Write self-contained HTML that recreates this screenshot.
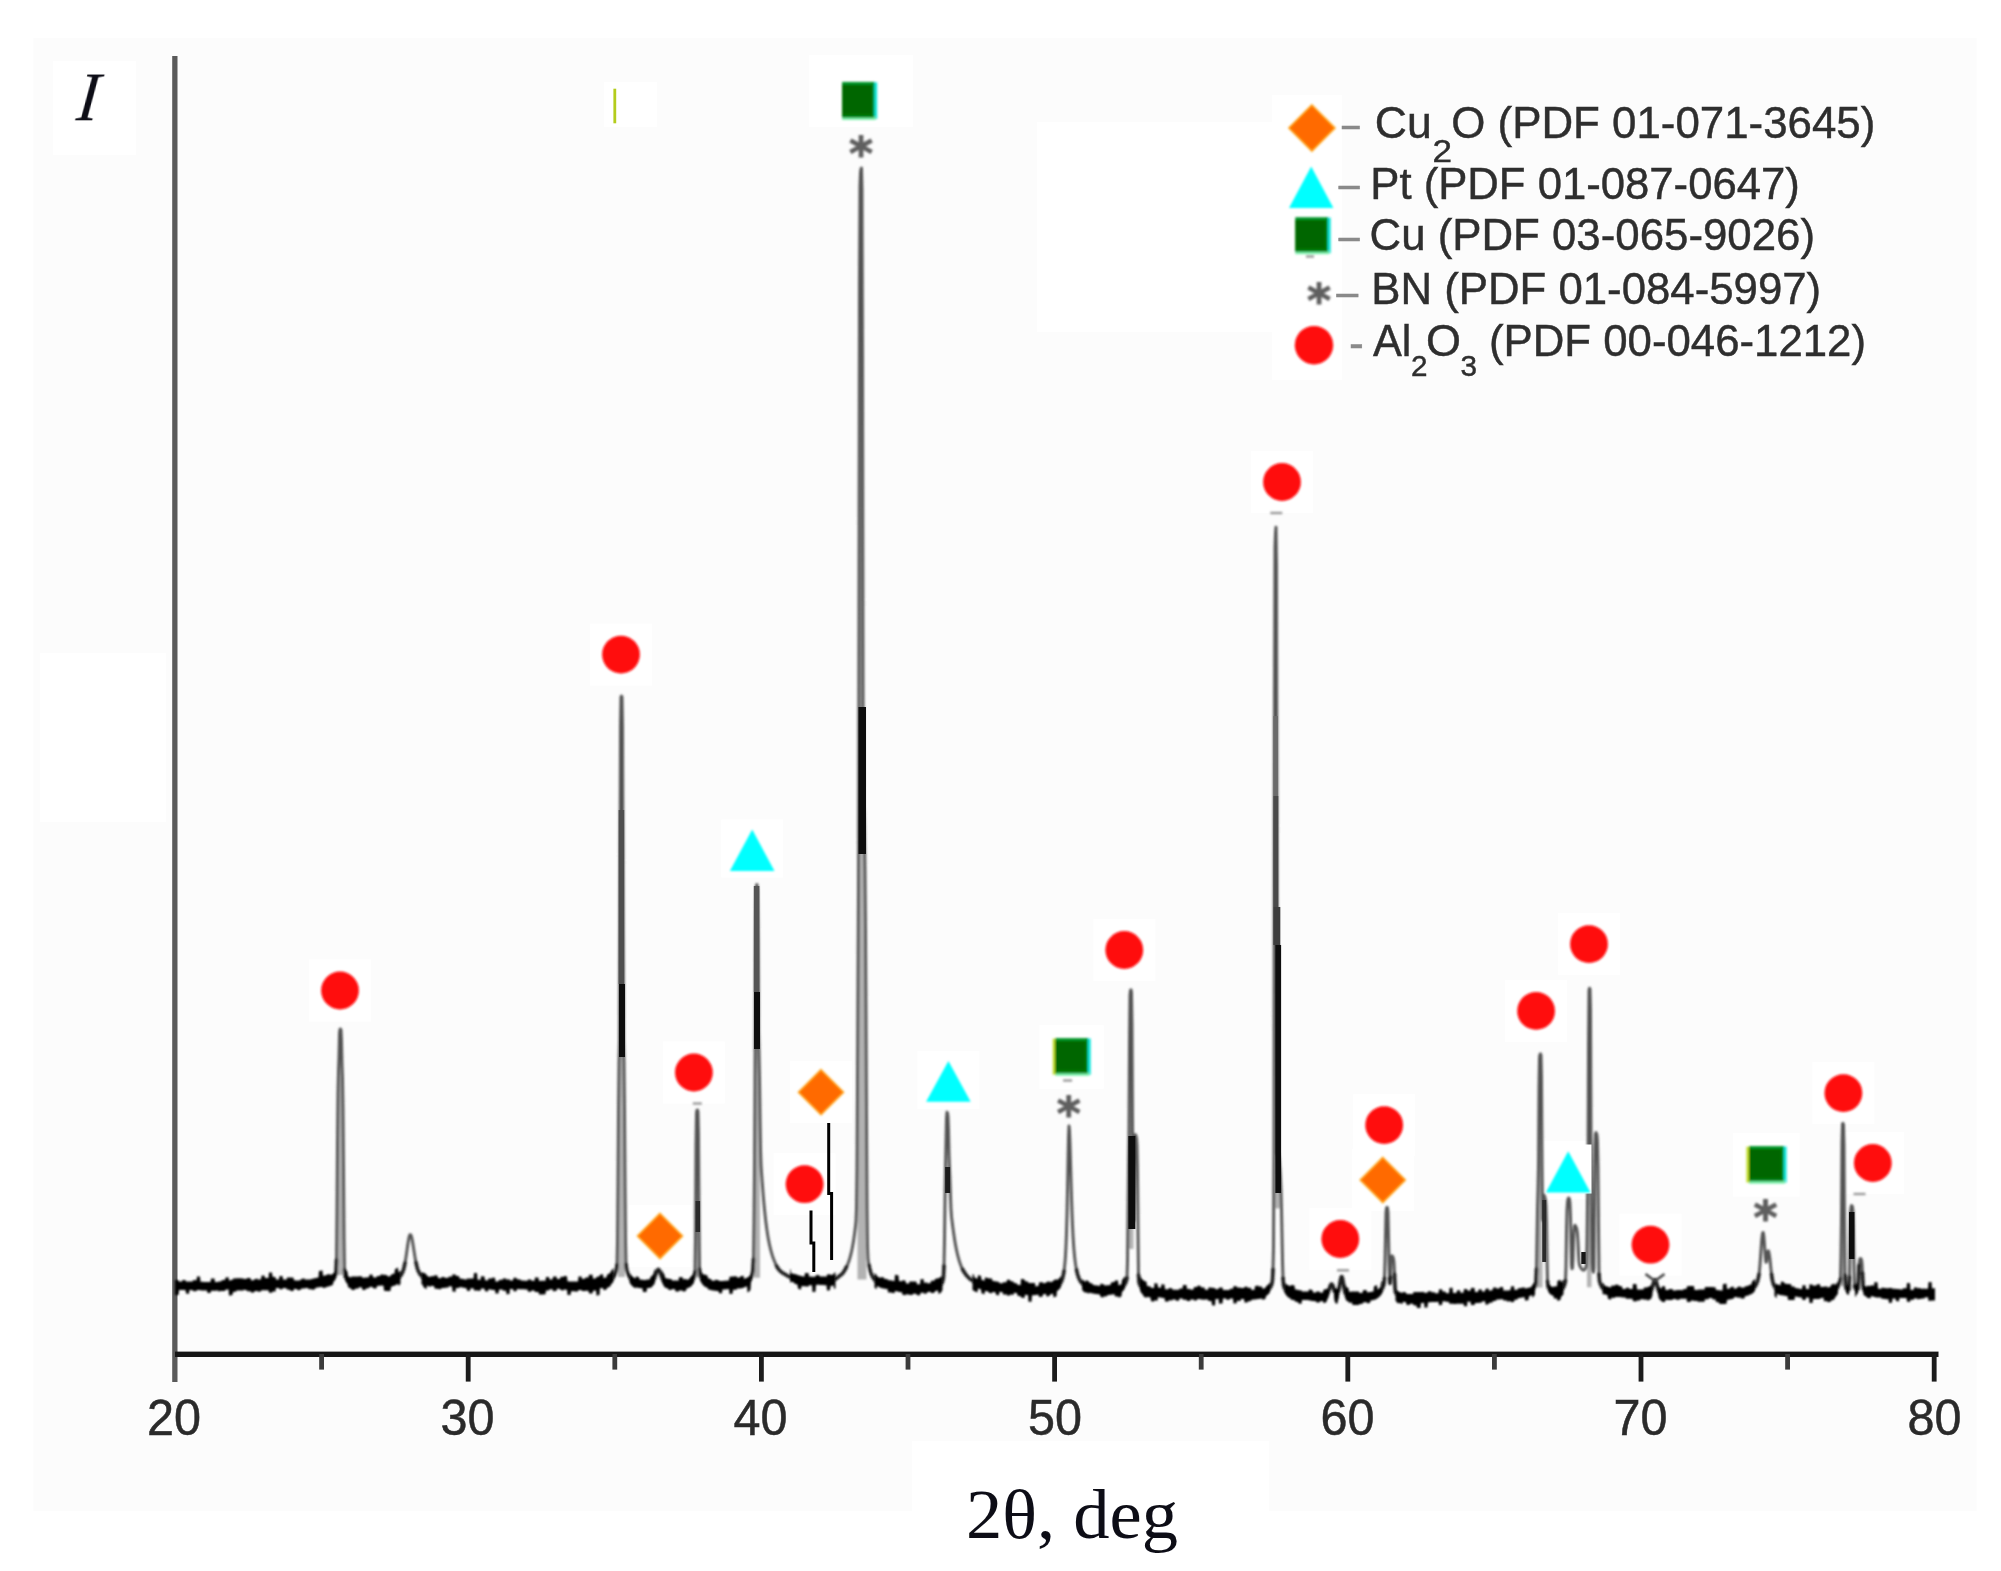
<!DOCTYPE html>
<html lang="en"><head><meta charset="utf-8"><title>XRD pattern</title>
<style>html,body{margin:0;padding:0;background:#fff;}body{width:2001px;height:1571px;overflow:hidden;}svg{display:block;}.sans{font-family:"Liberation Sans",Arial,Helvetica,sans-serif;}.serif{font-family:"Liberation Serif","Times New Roman",Times,serif;}</style></head><body>
<svg width="2001" height="1571" viewBox="0 0 2001 1571">
<defs><filter id="b1" x="-5%" y="-5%" width="110%" height="110%"><feGaussianBlur stdDeviation="0.9"/></filter><filter id="b2" x="-20%" y="-20%" width="140%" height="140%"><feGaussianBlur stdDeviation="0.8"/></filter><filter id="b3" x="-20%" y="-20%" width="140%" height="140%"><feGaussianBlur stdDeviation="0.75"/></filter></defs>
<rect x="0" y="0" width="2001" height="1571" fill="#ffffff"/>
<rect x="33.5" y="38" width="1943" height="1473" fill="#fcfcfc"/>
<rect x="53" y="61" width="83" height="94" fill="#ffffff"/>
<rect x="604" y="82" width="53" height="45" fill="#ffffff"/>
<rect x="809" y="55" width="104" height="72" fill="#ffffff"/>
<rect x="1037" y="122" width="235" height="210" fill="#ffffff"/>
<rect x="1272" y="95" width="70" height="285" fill="#ffffff"/>
<rect x="40" y="653" width="126" height="169" fill="#ffffff"/>
<rect x="912" y="1441" width="357" height="130" fill="#ffffff"/>
<rect x="309" y="959.5" width="62" height="62" fill="#fff"/>
<rect x="590" y="623.6" width="62" height="62" fill="#fff"/>
<rect x="662.9" y="1041.5" width="62" height="62" fill="#fff"/>
<rect x="773.6" y="1153.2" width="62" height="62" fill="#fff"/>
<rect x="1093.3" y="919" width="62" height="62" fill="#fff"/>
<rect x="1251" y="451" width="62" height="62" fill="#fff"/>
<rect x="1309.3" y="1208" width="62" height="62" fill="#fff"/>
<rect x="1353.2" y="1094.1" width="62" height="62" fill="#fff"/>
<rect x="1505.1" y="979.9" width="62" height="62" fill="#fff"/>
<rect x="1558" y="913.1" width="62" height="62" fill="#fff"/>
<rect x="1619.5" y="1213.7" width="62" height="62" fill="#fff"/>
<rect x="1812.4" y="1062.1" width="62" height="62" fill="#fff"/>
<rect x="1841.8" y="1132" width="62" height="62" fill="#fff"/>
<rect x="629" y="1205" width="62" height="62" fill="#fff"/>
<rect x="790" y="1061.2" width="62" height="62" fill="#fff"/>
<rect x="1351.8" y="1149" width="62" height="62" fill="#fff"/>
<rect x="721.2" y="819.5" width="62" height="58" fill="#fff"/>
<rect x="917.4" y="1051" width="62" height="58" fill="#fff"/>
<rect x="1537.2" y="1141.2" width="62" height="58" fill="#fff"/>
<rect x="1039.3" y="1025.1" width="64.5" height="63.7" fill="#fff"/>
<rect x="1733" y="1133.1" width="66.6" height="63.6" fill="#fff"/>
<g filter="url(#b3)">
<rect x="172.2" y="56" width="5.3" height="1326" fill="#5a5a5a"/>
<rect x="175" y="1351.6" width="1763.5" height="5.4" fill="#121212"/>
<rect x="319.2" y="1354" width="4.8" height="15.6" fill="#3a3a3a"/>
<rect x="465.8" y="1354" width="4.8" height="27.6" fill="#1c1c1c"/>
<rect x="612.4" y="1354" width="4.8" height="15.6" fill="#3a3a3a"/>
<rect x="759.0" y="1354" width="4.8" height="27.6" fill="#1c1c1c"/>
<rect x="905.6" y="1354" width="4.8" height="15.6" fill="#3a3a3a"/>
<rect x="1052.2" y="1354" width="4.8" height="27.6" fill="#1c1c1c"/>
<rect x="1198.8" y="1354" width="4.8" height="15.6" fill="#3a3a3a"/>
<rect x="1345.4" y="1354" width="4.8" height="27.6" fill="#1c1c1c"/>
<rect x="1492.0" y="1354" width="4.8" height="15.6" fill="#3a3a3a"/>
<rect x="1638.6" y="1354" width="4.8" height="27.6" fill="#1c1c1c"/>
<rect x="1785.2" y="1354" width="4.8" height="15.6" fill="#3a3a3a"/>
<rect x="1931.8" y="1354" width="4.8" height="27.6" fill="#1c1c1c"/>
</g>
<g fill="none" stroke-linejoin="round" stroke-linecap="round" filter="url(#b1)">
<path d="M337.0 1275.1L337.0 1210.7L337.5 1142.5L338.0 1093.7L338.5 1071.2L339.0 1056.9L339.5 1033.5L340.0 1029.3L340.5 1029.0L341.0 1029.9L341.5 1040.5L342.0 1064.6L342.5 1077.9L343.0 1109.9L343.5 1169.4L344.0 1235.7L344.0 1275.1 ZM618.0 1277.0L618.0 1181.2L618.5 1111.3L619.0 1063.5L619.5 1039.2L620.0 910.2L620.5 726.2L621.0 697.1L621.5 696.0L622.0 697.1L622.5 726.2L623.0 910.2L623.5 1039.1L624.0 1063.4L624.5 1111.1L625.0 1180.9L625.0 1277.0 ZM695.5 1277.4L695.5 1234.6L696.0 1144.9L696.5 1113.1L697.0 1110.1L697.5 1110.0L698.0 1111.7L698.5 1133.2L699.0 1217.1L699.0 1277.4 ZM754.0 1277.8L754.0 1220.8L754.5 1170.2L755.0 1081.7L755.5 972.1L756.0 916.5L756.5 885.1L757.0 884.5L757.5 890.8L758.0 941.2L758.5 1030.0L759.0 1052.4L759.5 1078.4L760.0 1115.7L760.0 1277.8 ZM857.5 1279.4L857.5 1083.6L858.0 981.4L858.5 885.0L859.0 613.0L859.5 284.0L860.0 185.7L860.5 172.5L861.0 169.2L861.5 168.1L862.0 189.9L862.5 355.2L863.0 695.5L863.5 804.6L864.0 818.9L864.5 838.8L865.0 872.8L865.5 931.1L866.0 1019.1L866.5 1122.4L866.5 1279.4 ZM1128.0 1249.1L1128.0 1213.9L1128.5 1165.8L1129.0 1133.8L1129.5 1042.2L1130.0 995.0L1130.5 990.4L1131.0 989.9L1131.5 992.2L1132.0 1025.3L1132.5 1124.9L1133.0 1174.7L1133.5 1220.6L1133.5 1249.1 ZM1273.5 1208.5L1273.5 1208.5L1274.0 1151.4L1274.5 692.4L1275.0 546.7L1275.5 533.0L1276.0 527.1L1276.5 565.6L1277.0 922.0L1277.5 1153.4L1278.0 1154.1L1278.5 1155.9L1279.0 1159.6L1279.5 1164.7L1280.0 1170.7L1280.5 1178.6L1281.0 1190.6L1281.5 1208.5L1282.0 1208.5L1282.5 1208.5L1282.5 1208.5 ZM1536.5 1287.4L1536.5 1268.9L1537.0 1239.3L1537.5 1208.5L1538.0 1189.2L1538.5 1164.6L1539.0 1087.5L1539.5 1057.5L1540.0 1054.3L1540.5 1053.9L1541.0 1055.3L1541.5 1076.5L1542.0 1158.9L1542.5 1218.5L1542.5 1287.4 ZM1587.0 1287.2L1587.0 1245.0L1587.5 1201.6L1588.0 1168.1L1588.5 1044.2L1589.0 990.4L1589.5 988.2L1590.0 989.0L1590.5 1009.8L1591.0 1141.2L1591.5 1219.2L1591.5 1287.2 ZM1841.0 1286.2L1841.0 1256.0L1841.5 1217.4L1842.0 1142.3L1842.5 1123.9L1843.0 1123.3L1843.5 1124.8L1844.0 1145.9L1844.5 1229.5L1845.0 1275.1L1845.0 1286.2 Z" fill="#b2b2b2" stroke="none"/>
<path d="M333.0 1277.9L333.5 1277.5L334.0 1277.1L334.5 1276.5L335.0 1275.9L335.5 1275.1L336.0 1273.5L336.5 1259.8L337.0 1210.7L337.5 1142.5L338.0 1093.7L338.5 1071.2L339.0 1056.9L339.5 1033.5L340.0 1029.3L340.5 1029.0L341.0 1029.9L341.5 1040.5L342.0 1064.6L342.5 1077.9L343.0 1109.9L343.5 1169.4L344.0 1235.7L344.5 1269.7L345.0 1275.9L345.5 1277.0L346.0 1277.9L346.5 1278.6L347.0 1279.2L347.5 1279.8L348.0 1280.2M394.5 1280.1L395.0 1279.9L395.5 1279.7L396.0 1279.5L396.5 1279.2L397.0 1278.9L397.5 1278.6L398.0 1278.3L398.5 1277.9L399.0 1277.5L399.5 1277.0L400.0 1276.5L400.5 1275.8L401.0 1275.2L401.5 1274.3L402.0 1273.4L402.5 1272.3L403.0 1271.0L403.5 1269.5L404.0 1267.7L404.5 1265.5L405.0 1263.0L405.5 1260.2L406.0 1257.1L406.5 1253.6L407.0 1250.1L407.5 1246.5L408.0 1243.1L408.5 1240.1L409.0 1237.5L409.5 1235.7L410.0 1234.7L410.5 1234.6L411.0 1235.3L411.5 1236.8L412.0 1238.9L412.5 1241.4L413.0 1244.4L413.5 1247.6L414.0 1250.9L414.5 1254.1L415.0 1257.2L415.5 1260.0L416.0 1262.6L416.5 1264.8L417.0 1266.9L417.5 1268.6L418.0 1270.1L418.5 1271.4L419.0 1272.4L419.5 1273.3L420.0 1274.1L420.5 1274.8L421.0 1275.4L421.5 1276.0L422.0 1276.5L422.5 1277.0L423.0 1277.5L423.5 1277.9L424.0 1278.3L424.5 1278.6L425.0 1279.0L425.5 1279.3L426.0 1279.6L426.5 1279.9L427.0 1280.1L427.5 1280.3L428.0 1280.6L428.5 1280.8M608.5 1281.8L609.0 1281.5L609.5 1281.2L610.0 1280.9L610.5 1280.5L611.0 1280.1L611.5 1279.7L612.0 1279.1L612.5 1278.6L613.0 1277.9L613.5 1277.1L614.0 1276.3L614.5 1275.3L615.0 1274.1L615.5 1272.8L616.0 1271.2L616.5 1269.4L617.0 1264.9L617.5 1241.1L618.0 1181.2L618.5 1111.3L619.0 1063.5L619.5 1039.2L620.0 910.2L620.5 726.2L621.0 697.1L621.5 696.0L622.0 697.1L622.5 726.2L623.0 910.2L623.5 1039.1L624.0 1063.4L624.5 1111.1L625.0 1180.9L625.5 1240.7L626.0 1264.4L626.5 1268.8L627.0 1270.7L627.5 1272.3L628.0 1273.7L628.5 1275.0L629.0 1276.1L629.5 1277.0L630.0 1277.8L630.5 1278.6L631.0 1279.2L631.5 1279.8L632.0 1280.3L632.5 1280.8L633.0 1281.2L633.5 1281.6L634.0 1281.9L634.5 1282.2M653.0 1281.3L653.5 1280.5L654.0 1279.4L654.5 1278.1L655.0 1276.7L655.5 1275.1L656.0 1273.6L656.5 1272.2L657.0 1270.9L657.5 1270.0L658.0 1269.5L658.5 1269.4L659.0 1269.9L659.5 1270.8L660.0 1271.9L660.5 1273.3L661.0 1274.9L661.5 1276.4L662.0 1277.9L662.5 1279.2L663.0 1280.3L663.5 1281.2L664.0 1282.0M691.0 1282.1L691.5 1281.6L692.0 1281.1L692.5 1280.3L693.0 1279.5L693.5 1278.4L694.0 1277.2L694.5 1275.7L695.0 1271.9L695.5 1234.6L696.0 1144.9L696.5 1113.1L697.0 1110.1L697.5 1110.0L698.0 1111.7L698.5 1133.2L699.0 1217.1L699.5 1268.8L700.0 1274.9L700.5 1276.4L701.0 1277.6L701.5 1278.6L702.0 1279.5L702.5 1280.2L703.0 1280.8L703.5 1281.3M748.0 1281.4L748.5 1281.1L749.0 1280.7L749.5 1280.2L750.0 1279.6L750.5 1278.9L751.0 1278.0L751.5 1276.7L752.0 1275.0L752.5 1272.7L753.0 1269.3L753.5 1259.0L754.0 1220.8L754.5 1170.2L755.0 1081.7L755.5 972.1L756.0 916.5L756.5 885.1L757.0 884.5L757.5 890.8L758.0 941.2L758.5 1030.0L759.0 1052.4L759.5 1078.4L760.0 1115.7L760.5 1148.7L761.0 1164.8L761.5 1172.7L762.0 1179.5L762.5 1186.1L763.0 1192.5L763.5 1198.5L764.0 1204.1L764.5 1209.3L765.0 1214.2L765.5 1218.8L766.0 1223.0L766.5 1226.9L767.0 1230.5L767.5 1233.9L768.0 1236.9L768.5 1239.7L769.0 1242.3L769.5 1244.7L770.0 1246.9L770.5 1248.9L771.0 1250.9L771.5 1252.7L772.0 1254.4L772.5 1256.0L773.0 1257.4L773.5 1258.8L774.0 1260.1L774.5 1261.3L775.0 1262.5L775.5 1263.7L776.0 1264.8L776.5 1265.8L777.0 1266.7L777.5 1267.7L778.0 1268.5L778.5 1269.1L779.0 1269.7L779.5 1270.3L780.0 1270.8L780.5 1271.2L781.0 1271.7L781.5 1272.1L782.0 1272.5L782.5 1272.8L783.0 1273.2L783.5 1273.5L784.0 1273.7L784.5 1274.0L785.0 1274.3L785.5 1274.6L786.0 1274.9L786.5 1275.2L787.0 1275.5L787.5 1275.8L788.0 1276.1L788.5 1276.4L789.0 1276.6L789.5 1276.8L790.0 1277.0L790.5 1277.2L791.0 1277.3L791.5 1277.5L792.0 1277.7L792.5 1277.8L793.0 1277.9L793.5 1278.1L794.0 1278.2L794.5 1278.3L795.0 1278.4L795.5 1278.5L796.0 1278.6L796.5 1278.8L797.0 1279.0L797.5 1279.2L798.0 1279.3L798.5 1279.5L799.0 1279.7L799.5 1279.9L800.0 1280.0L800.5 1280.1L801.0 1280.3L801.5 1280.4L802.0 1280.5L802.5 1280.6L803.0 1280.7L803.5 1280.8L804.0 1280.8L804.5 1280.8L805.0 1280.8L805.5 1280.8L806.0 1280.9L806.5 1280.9L807.0 1280.9L807.5 1280.9L808.0 1280.9L808.5 1280.9L809.0 1280.9L809.5 1280.9L810.0 1280.9L810.5 1280.9L811.0 1280.9L811.5 1281.0L812.0 1281.0L812.5 1281.1L813.0 1281.1L813.5 1281.1L814.0 1281.2L814.5 1281.1L815.0 1280.9L815.5 1280.8L816.0 1280.7L816.5 1280.6L817.0 1280.5L817.5 1280.4L818.0 1280.4L818.5 1280.4L819.0 1280.5L819.5 1280.6L820.0 1280.6L820.5 1280.7L821.0 1280.7L821.5 1280.8L822.0 1280.8L822.5 1280.8L823.0 1280.8L823.5 1280.8L824.0 1280.9L824.5 1280.9L825.0 1280.9L825.5 1280.9L826.0 1281.0L826.5 1281.0L827.0 1281.1L827.5 1281.1L828.0 1281.1L828.5 1281.1L829.0 1281.0L829.5 1280.9L830.0 1280.8L830.5 1280.6L831.0 1280.5L831.5 1280.4L832.0 1280.2L832.5 1280.1L833.0 1279.9L833.5 1279.8L834.0 1279.6L834.5 1279.4L835.0 1279.2L835.5 1279.0L836.0 1278.7L836.5 1278.4L837.0 1278.0L837.5 1277.6L838.0 1277.2L838.5 1276.8L839.0 1276.3L839.5 1275.9L840.0 1275.6L840.5 1275.2L841.0 1274.8L841.5 1274.4L842.0 1273.9L842.5 1273.4L843.0 1272.8L843.5 1272.1L844.0 1271.4L844.5 1270.6L845.0 1269.7L845.5 1268.8L846.0 1267.9L846.5 1266.8L847.0 1265.8L847.5 1264.7L848.0 1263.5L848.5 1262.2L849.0 1260.7L849.5 1259.2L850.0 1257.5L850.5 1255.7L851.0 1253.7L851.5 1251.6L852.0 1249.2L852.5 1246.7L853.0 1243.9L853.5 1240.9L854.0 1237.6L854.5 1234.1L855.0 1230.2L855.5 1226.1L856.0 1221.1L856.5 1208.5L857.0 1167.2L857.5 1083.6L858.0 981.4L858.5 885.0L859.0 613.0L859.5 284.0L860.0 185.7L860.5 172.5L861.0 169.2L861.5 168.1L862.0 189.9L862.5 355.2L863.0 695.5L863.5 804.6L864.0 818.9L864.5 838.8L865.0 872.8L865.5 931.1L866.0 1019.1L866.5 1122.4L867.0 1206.1L867.5 1246.9L868.0 1258.6L868.5 1262.4L869.0 1265.2L869.5 1267.6L870.0 1269.7L870.5 1271.5L871.0 1273.1L871.5 1274.5L872.0 1275.6L872.5 1276.6L873.0 1277.5L873.5 1278.3L874.0 1279.0L874.5 1279.6L875.0 1280.2L875.5 1280.6L876.0 1281.0L876.5 1281.4L877.0 1281.7L877.5 1282.0L878.0 1282.3L878.5 1282.5L879.0 1282.8L879.5 1283.0L880.0 1283.2L880.5 1283.4L881.0 1283.6L881.5 1283.7M940.5 1285.0L941.0 1284.5L941.5 1283.9L942.0 1283.0L942.5 1281.8L943.0 1280.1L943.5 1277.1L944.0 1265.7L944.5 1239.7L945.0 1200.0L945.5 1168.2L946.0 1142.3L946.5 1117.9L947.0 1112.2L947.5 1113.0L948.0 1116.2L948.5 1129.3L949.0 1154.1L949.5 1168.3L950.0 1180.9L950.5 1196.6L951.0 1209.5L951.5 1216.4L952.0 1220.7L952.5 1224.6L953.0 1228.4L953.5 1232.1L954.0 1235.5L954.5 1238.8L955.0 1241.9L955.5 1244.7L956.0 1247.4L956.5 1249.9L957.0 1252.2L957.5 1254.3L958.0 1256.3L958.5 1258.2L959.0 1260.0L959.5 1261.6L960.0 1263.1L960.5 1264.5L961.0 1265.9L961.5 1267.1L962.0 1268.2L962.5 1269.2L963.0 1270.2L963.5 1271.0L964.0 1271.9L964.5 1272.6L965.0 1273.3L965.5 1274.1L966.0 1274.7L966.5 1275.4L967.0 1276.0L967.5 1276.6L968.0 1277.1L968.5 1277.6L969.0 1278.1L969.5 1278.5L970.0 1278.9L970.5 1279.3L971.0 1279.7L971.5 1280.0L972.0 1280.3L972.5 1280.6L973.0 1281.0L973.5 1281.3L974.0 1281.6L974.5 1281.8L975.0 1282.1L975.5 1282.4L976.0 1282.6L976.5 1282.8L977.0 1282.9L977.5 1283.0L978.0 1283.1L978.5 1283.2L979.0 1283.3L979.5 1283.3L980.0 1283.5L980.5 1283.7L981.0 1283.9L981.5 1284.0L982.0 1284.2L982.5 1284.3L983.0 1284.5L983.5 1284.7L984.0 1284.9L984.5 1285.0L985.0 1285.2L985.5 1285.4L986.0 1285.5L986.5 1285.7L987.0 1285.8L987.5 1285.9M1056.0 1287.3L1056.5 1287.0L1057.0 1286.8L1057.5 1286.5L1058.0 1286.1L1058.5 1285.7L1059.0 1285.2L1059.5 1284.6L1060.0 1284.0L1060.5 1283.2L1061.0 1282.3L1061.5 1281.2L1062.0 1279.9L1062.5 1278.3L1063.0 1276.4L1063.5 1274.0L1064.0 1271.0L1064.5 1267.1L1065.0 1262.1L1065.5 1255.3L1066.0 1245.9L1066.5 1232.8L1067.0 1214.5L1067.5 1190.5L1068.0 1162.2L1068.5 1136.6L1069.0 1125.9L1069.5 1130.7L1070.0 1143.6L1070.5 1161.2L1071.0 1180.0L1071.5 1197.5L1072.0 1212.6L1072.5 1225.1L1073.0 1235.3L1073.5 1243.5L1074.0 1250.1L1074.5 1255.6L1075.0 1260.1L1075.5 1263.9L1076.0 1267.0L1076.5 1269.7L1077.0 1272.0L1077.5 1273.9L1078.0 1275.6L1078.5 1277.1L1079.0 1278.4L1079.5 1279.5L1080.0 1280.5L1080.5 1281.4L1081.0 1282.1L1081.5 1282.8L1082.0 1283.3L1082.5 1283.8L1083.0 1284.3L1083.5 1284.7L1084.0 1285.0L1084.5 1285.5L1085.0 1285.9L1085.5 1286.2L1086.0 1286.6L1086.5 1286.9L1087.0 1287.2L1087.5 1287.4L1088.0 1287.7L1088.5 1287.9L1089.0 1288.1L1089.5 1288.3M1120.5 1289.0L1121.0 1288.6L1121.5 1288.2L1122.0 1287.8L1122.5 1287.3L1123.0 1286.8L1123.5 1286.1L1124.0 1285.5L1124.5 1284.8L1125.0 1284.0L1125.5 1283.0L1126.0 1281.8L1126.5 1280.4L1127.0 1277.8L1127.5 1261.2L1128.0 1213.9L1128.5 1165.8L1129.0 1133.8L1129.5 1042.2L1130.0 995.0L1130.5 990.4L1131.0 989.9L1131.5 992.2L1132.0 1025.3L1132.5 1124.9L1133.0 1174.7L1133.5 1220.6L1134.0 1184.1L1134.5 1142.1L1135.0 1134.8L1135.5 1134.7L1136.0 1136.0L1136.5 1138.3L1137.0 1145.3L1137.5 1171.7L1138.0 1229.5L1138.5 1274.8L1139.0 1282.4L1139.5 1283.9L1140.0 1285.1L1140.5 1286.1L1141.0 1286.9L1141.5 1287.7L1142.0 1288.3L1142.5 1288.8L1143.0 1289.2L1143.5 1289.6M1265.5 1292.1L1266.0 1291.8L1266.5 1291.5L1267.0 1291.1L1267.5 1290.7L1268.0 1290.3L1268.5 1289.8L1269.0 1289.3L1269.5 1288.7L1270.0 1287.9L1270.5 1287.1L1271.0 1286.1L1271.5 1284.9L1272.0 1283.4L1272.5 1280.0L1273.0 1269.3L1273.5 1247.4L1274.0 1151.4L1274.5 692.4L1275.0 546.7L1275.5 533.0L1276.0 527.1L1276.5 565.6L1277.0 922.0L1277.5 1153.4L1278.0 1154.1L1278.5 1155.9L1279.0 1159.6L1279.5 1164.7L1280.0 1170.7L1280.5 1178.6L1281.0 1190.6L1281.5 1209.3L1282.0 1234.7L1282.5 1260.7L1283.0 1278.0L1283.5 1284.8L1284.0 1286.9L1284.5 1288.1L1285.0 1289.1L1285.5 1289.9L1286.0 1290.7L1286.5 1291.3L1287.0 1291.9L1287.5 1292.4L1288.0 1292.8L1288.5 1293.2M1327.5 1293.8L1328.0 1292.8L1328.5 1291.4L1329.0 1289.9L1329.5 1288.3L1330.0 1286.7L1330.5 1285.3L1331.0 1284.4L1331.5 1284.1L1332.0 1284.4L1332.5 1285.4L1333.0 1286.8L1333.5 1288.4L1334.0 1290.0L1334.5 1291.5L1335.0 1292.8L1335.5 1293.7M1337.5 1293.9L1338.0 1292.8L1338.5 1291.2L1339.0 1288.9L1339.5 1286.1L1340.0 1283.0L1340.5 1280.1L1341.0 1277.9L1341.5 1276.7L1342.0 1276.9L1342.5 1278.6L1343.0 1281.2L1343.5 1284.4L1344.0 1287.6L1344.5 1290.4L1345.0 1292.7L1345.5 1294.4L1346.0 1295.6M1379.0 1292.8L1379.5 1292.3L1380.0 1291.9L1380.5 1291.4L1381.0 1290.8L1381.5 1290.0L1382.0 1289.1L1382.5 1288.1L1383.0 1286.9L1383.5 1285.5L1384.0 1283.8L1384.5 1278.1L1385.0 1260.9L1385.5 1235.5L1386.0 1212.4L1386.5 1208.1L1387.0 1207.4L1387.5 1207.9L1388.0 1212.4L1388.5 1235.7L1389.0 1261.2L1389.5 1278.3L1390.0 1283.4L1390.5 1277.1L1391.0 1261.5L1391.5 1256.2L1392.0 1255.8L1392.5 1256.3L1393.0 1257.3L1393.5 1258.9L1394.0 1262.9L1394.5 1274.0L1395.0 1287.8L1395.5 1292.4L1396.0 1293.3L1396.5 1294.0L1397.0 1294.6L1397.5 1295.0M1531.5 1290.8L1532.0 1290.4L1532.5 1290.0L1533.0 1289.4L1533.5 1288.9L1534.0 1288.2L1534.5 1287.4L1535.0 1286.5L1535.5 1285.4L1536.0 1282.6L1536.5 1268.9L1537.0 1239.3L1537.5 1208.5L1538.0 1189.2L1538.5 1164.6L1539.0 1087.5L1539.5 1057.5L1540.0 1054.3L1540.5 1053.9L1541.0 1055.3L1541.5 1076.5L1542.0 1158.9L1542.5 1218.5L1543.0 1220.3L1543.5 1198.2L1544.0 1195.2L1544.5 1196.2L1545.0 1197.7L1545.5 1200.0L1546.0 1205.6L1546.5 1222.4L1547.0 1255.0L1547.5 1281.0L1548.0 1286.6L1548.5 1287.6L1549.0 1288.4L1549.5 1289.1L1550.0 1289.6L1550.5 1290.1L1551.0 1290.4L1551.5 1290.7L1552.0 1291.0L1552.5 1291.2M1559.0 1291.1L1559.5 1290.9L1560.0 1290.7L1560.5 1290.4L1561.0 1290.1L1561.5 1289.8L1562.0 1289.3L1562.5 1288.7L1563.0 1288.0L1563.5 1287.2L1564.0 1286.1L1564.5 1284.7L1565.0 1283.0L1565.5 1280.5L1566.0 1266.0L1566.5 1231.6L1567.0 1209.8L1567.5 1202.2L1568.0 1199.0L1568.5 1198.0L1569.0 1198.2L1569.5 1199.4L1570.0 1203.7L1570.5 1217.4L1571.0 1244.0L1571.5 1265.1L1572.0 1268.8L1572.5 1267.9L1573.0 1258.5L1573.5 1239.5L1574.0 1230.0L1574.5 1226.1L1575.0 1225.2L1575.5 1226.0L1576.0 1226.9L1576.5 1228.0L1577.0 1230.1L1577.5 1234.4L1578.0 1242.5L1578.5 1253.4L1579.0 1261.7L1579.5 1264.9L1580.0 1266.1L1580.5 1267.1L1581.0 1268.0L1581.5 1268.7L1582.0 1269.3L1582.5 1269.7L1583.0 1270.0L1583.5 1270.1L1584.0 1270.0L1584.5 1269.6L1585.0 1269.1L1585.5 1268.3L1586.0 1267.2L1586.5 1264.7L1587.0 1245.0L1587.5 1201.6L1588.0 1168.1L1588.5 1044.2L1589.0 990.4L1589.5 988.2L1590.0 989.0L1590.5 1009.8L1591.0 1141.2L1591.5 1219.2L1592.0 1262.5L1592.5 1269.7L1593.0 1271.3L1593.5 1272.2L1594.0 1267.4L1594.5 1204.9L1595.0 1146.4L1595.5 1133.9L1596.0 1132.6L1596.5 1133.4L1597.0 1135.4L1597.5 1141.8L1598.0 1167.5L1598.5 1227.3L1599.0 1274.0L1599.5 1281.1L1600.0 1282.8L1600.5 1284.2L1601.0 1285.4L1601.5 1286.4L1602.0 1287.2L1602.5 1288.0L1603.0 1288.5L1603.5 1289.0L1604.0 1289.3L1604.5 1289.7L1605.0 1290.0L1605.5 1290.2L1606.0 1290.4L1606.5 1290.6L1607.0 1290.8L1607.5 1290.9L1608.0 1291.0L1608.5 1291.2L1609.0 1291.2L1609.5 1291.3M1651.0 1291.3L1651.5 1290.2L1652.0 1288.7L1652.5 1287.0L1653.0 1285.1L1653.5 1283.2L1654.0 1281.5L1654.5 1280.4L1655.0 1280.0L1655.5 1280.3L1656.0 1281.3L1656.5 1282.9L1657.0 1284.9L1657.5 1286.9L1658.0 1288.8L1658.5 1290.4L1659.0 1291.7M1750.0 1290.3L1750.5 1290.2L1751.0 1289.9L1751.5 1289.7L1752.0 1289.4L1752.5 1289.1L1753.0 1288.7L1753.5 1288.3L1754.0 1287.8L1754.5 1287.2L1755.0 1286.5L1755.5 1285.7L1756.0 1284.8L1756.5 1283.8L1757.0 1282.6L1757.5 1281.2L1758.0 1279.4L1758.5 1277.2L1759.0 1274.2L1759.5 1270.1L1760.0 1264.5L1760.5 1257.7L1761.0 1250.1L1761.5 1242.9L1762.0 1237.2L1762.5 1233.7L1763.0 1232.4L1763.5 1233.6L1764.0 1238.0L1764.5 1244.9L1765.0 1252.7L1765.5 1259.1L1766.0 1262.4L1766.5 1261.8L1767.0 1258.2L1767.5 1253.8L1768.0 1250.9L1768.5 1251.0L1769.0 1252.8L1769.5 1255.7L1770.0 1259.8L1770.5 1264.6L1771.0 1269.6L1771.5 1274.1L1772.0 1277.9L1772.5 1280.7L1773.0 1282.8L1773.5 1284.4L1774.0 1285.6L1774.5 1286.5L1775.0 1287.3L1775.5 1288.0L1776.0 1288.5L1776.5 1289.0L1777.0 1289.3L1777.5 1289.7L1778.0 1290.0L1778.5 1290.2L1779.0 1290.4L1779.5 1290.6M1834.0 1291.5L1834.5 1291.2L1835.0 1290.7L1835.5 1290.3L1836.0 1289.7L1836.5 1289.1L1837.0 1288.4L1837.5 1287.6L1838.0 1286.7L1838.5 1285.6L1839.0 1284.4L1839.5 1283.0L1840.0 1281.5L1840.5 1278.6L1841.0 1256.0L1841.5 1217.4L1842.0 1142.3L1842.5 1123.9L1843.0 1123.3L1843.5 1124.8L1844.0 1145.9L1844.5 1229.5L1845.0 1275.1L1845.5 1286.4L1846.0 1288.0L1846.5 1289.1L1847.0 1289.8L1847.5 1290.3L1848.0 1290.4L1848.5 1290.3L1849.0 1289.7L1849.5 1276.9L1850.0 1234.7L1850.5 1212.7L1851.0 1207.3L1851.5 1205.6L1852.0 1205.8L1852.5 1207.0L1853.0 1211.7L1853.5 1229.8L1854.0 1265.3L1854.5 1285.7L1855.0 1288.0L1855.5 1288.7L1856.0 1289.2L1856.5 1289.6L1857.0 1289.8L1857.5 1289.8L1858.0 1289.1L1858.5 1279.2L1859.0 1265.3L1859.5 1260.4L1860.0 1258.9L1860.5 1258.5L1861.0 1258.9L1861.5 1259.8L1862.0 1263.1L1862.5 1272.8L1863.0 1285.3L1863.5 1289.2L1864.0 1289.7" stroke="#525252" stroke-width="2.9"/>
<path d="M334.5 1276.5L335.0 1275.9L335.5 1275.1L336.0 1273.5L336.5 1259.8M344.5 1269.7L345.0 1275.9L345.5 1277.0L346.0 1277.9M398.0 1278.3L398.5 1277.9L399.0 1277.5L399.5 1277.0L400.0 1276.5L400.5 1275.8L401.0 1275.2L401.5 1274.3L402.0 1273.4L402.5 1272.3L403.0 1271.0L403.5 1269.5L404.0 1267.7L404.5 1265.5L405.0 1263.0M416.0 1262.6L416.5 1264.8L417.0 1266.9L417.5 1268.6L418.0 1270.1L418.5 1271.4L419.0 1272.4L419.5 1273.3L420.0 1274.1L420.5 1274.8L421.0 1275.4L421.5 1276.0L422.0 1276.5L422.5 1277.0L423.0 1277.5L423.5 1277.9L424.0 1278.3L424.5 1278.6M611.5 1279.7L612.0 1279.1L612.5 1278.6L613.0 1277.9L613.5 1277.1L614.0 1276.3L614.5 1275.3L615.0 1274.1L615.5 1272.8L616.0 1271.2L616.5 1269.4L617.0 1264.9M626.0 1264.4L626.5 1268.8L627.0 1270.7L627.5 1272.3L628.0 1273.7L628.5 1275.0L629.0 1276.1L629.5 1277.0L630.0 1277.8L630.5 1278.6L631.0 1279.2L631.5 1279.8M654.0 1279.4L654.5 1278.1L655.0 1276.7L655.5 1275.1L656.0 1273.6L656.5 1272.2L657.0 1270.9L657.5 1270.0L658.0 1269.5L658.5 1269.4L659.0 1269.9L659.5 1270.8L660.0 1271.9L660.5 1273.3L661.0 1274.9L661.5 1276.4L662.0 1277.9L662.5 1279.2L663.0 1280.3M692.5 1280.3L693.0 1279.5L693.5 1278.4L694.0 1277.2L694.5 1275.7L695.0 1271.9M699.5 1268.8L700.0 1274.9L700.5 1276.4L701.0 1277.6L701.5 1278.6L702.0 1279.5M750.0 1279.6L750.5 1278.9L751.0 1278.0L751.5 1276.7L752.0 1275.0L752.5 1272.7L753.0 1269.3L753.5 1259.0M776.5 1265.8L777.0 1266.7L777.5 1267.7L778.0 1268.5L778.5 1269.1L779.0 1269.7L779.5 1270.3L780.0 1270.8L780.5 1271.2L781.0 1271.7L781.5 1272.1L782.0 1272.5L782.5 1272.8L783.0 1273.2L783.5 1273.5L784.0 1273.7L784.5 1274.0L785.0 1274.3L785.5 1274.6L786.0 1274.9L786.5 1275.2L787.0 1275.5L787.5 1275.8L788.0 1276.1L788.5 1276.4L789.0 1276.6L789.5 1276.8L790.0 1277.0L790.5 1277.2L791.0 1277.3L791.5 1277.5L792.0 1277.7L792.5 1277.8L793.0 1277.9L793.5 1278.1L794.0 1278.2L794.5 1278.3L795.0 1278.4L795.5 1278.5L796.0 1278.6L796.5 1278.8L797.0 1279.0L797.5 1279.2L798.0 1279.3L798.5 1279.5L799.0 1279.7L799.5 1279.9L800.0 1280.0L800.5 1280.1L801.0 1280.3M826.0 1281.0L826.5 1281.0L827.0 1281.1L827.5 1281.1L828.0 1281.1L828.5 1281.1L829.0 1281.0L829.5 1280.9L830.0 1280.8L830.5 1280.6L831.0 1280.5L831.5 1280.4L832.0 1280.2L832.5 1280.1L833.0 1279.9L833.5 1279.8L834.0 1279.6L834.5 1279.4L835.0 1279.2L835.5 1279.0L836.0 1278.7L836.5 1278.4L837.0 1278.0L837.5 1277.6L838.0 1277.2L838.5 1276.8L839.0 1276.3L839.5 1275.9L840.0 1275.6L840.5 1275.2L841.0 1274.8L841.5 1274.4L842.0 1273.9L842.5 1273.4L843.0 1272.8L843.5 1272.1L844.0 1271.4L844.5 1270.6L845.0 1269.7L845.5 1268.8L846.0 1267.9L846.5 1266.8M869.0 1265.2L869.5 1267.6L870.0 1269.7L870.5 1271.5L871.0 1273.1L871.5 1274.5L872.0 1275.6L872.5 1276.6L873.0 1277.5L873.5 1278.3L874.0 1279.0L874.5 1279.6L875.0 1280.2L875.5 1280.6L876.0 1281.0L876.5 1281.4L877.0 1281.7L877.5 1282.0M941.5 1283.9L942.0 1283.0L942.5 1281.8L943.0 1280.1L943.5 1277.1L944.0 1265.7M962.5 1269.2L963.0 1270.2L963.5 1271.0L964.0 1271.9L964.5 1272.6L965.0 1273.3L965.5 1274.1L966.0 1274.7L966.5 1275.4L967.0 1276.0L967.5 1276.6L968.0 1277.1L968.5 1277.6L969.0 1278.1L969.5 1278.5L970.0 1278.9L970.5 1279.3L971.0 1279.7L971.5 1280.0L972.0 1280.3L972.5 1280.6L973.0 1281.0L973.5 1281.3L974.0 1281.6L974.5 1281.8L975.0 1282.1L975.5 1282.4L976.0 1282.6L976.5 1282.8L977.0 1282.9L977.5 1283.0L978.0 1283.1L978.5 1283.2L979.0 1283.3L979.5 1283.3M1058.5 1285.7L1059.0 1285.2L1059.5 1284.6L1060.0 1284.0L1060.5 1283.2L1061.0 1282.3L1061.5 1281.2L1062.0 1279.9L1062.5 1278.3L1063.0 1276.4L1063.5 1274.0L1064.0 1271.0M1076.5 1269.7L1077.0 1272.0L1077.5 1273.9L1078.0 1275.6L1078.5 1277.1L1079.0 1278.4L1079.5 1279.5L1080.0 1280.5L1080.5 1281.4L1081.0 1282.1L1081.5 1282.8L1082.0 1283.3L1082.5 1283.8L1083.0 1284.3L1083.5 1284.7L1084.0 1285.0L1084.5 1285.5L1085.0 1285.9M1123.0 1286.8L1123.5 1286.1L1124.0 1285.5L1124.5 1284.8L1125.0 1284.0L1125.5 1283.0L1126.0 1281.8L1126.5 1280.4L1127.0 1277.8M1138.5 1274.8L1139.0 1282.4L1139.5 1283.9L1140.0 1285.1L1140.5 1286.1L1141.0 1286.9L1141.5 1287.7M1268.0 1290.3L1268.5 1289.8L1269.0 1289.3L1269.5 1288.7L1270.0 1287.9L1270.5 1287.1L1271.0 1286.1L1271.5 1284.9L1272.0 1283.4L1272.5 1280.0L1273.0 1269.3M1283.0 1278.0L1283.5 1284.8L1284.0 1286.9L1284.5 1288.1L1285.0 1289.1L1285.5 1289.9L1286.0 1290.7M1328.5 1291.4L1329.0 1289.9L1329.5 1288.3L1330.0 1286.7L1330.5 1285.3L1331.0 1284.4L1331.5 1284.1L1332.0 1284.4L1332.5 1285.4L1333.0 1286.8L1333.5 1288.4L1334.0 1290.0L1334.5 1291.5M1338.0 1292.8L1338.5 1291.2L1339.0 1288.9L1339.5 1286.1L1340.0 1283.0L1340.5 1280.1L1341.0 1277.9L1341.5 1276.7M1342.0 1276.9L1342.5 1278.6L1343.0 1281.2L1343.5 1284.4L1344.0 1287.6L1344.5 1290.4L1345.0 1292.7M1380.5 1291.4L1381.0 1290.8L1381.5 1290.0L1382.0 1289.1L1382.5 1288.1L1383.0 1286.9L1383.5 1285.5L1384.0 1283.8L1384.5 1278.1M1389.5 1278.3L1390.0 1283.4L1390.5 1277.1M1394.5 1274.0L1395.0 1287.8L1395.5 1292.4L1396.0 1293.3M1533.5 1288.9L1534.0 1288.2L1534.5 1287.4L1535.0 1286.5L1535.5 1285.4L1536.0 1282.6L1536.5 1268.9M1547.5 1281.0L1548.0 1286.6L1548.5 1287.6L1549.0 1288.4L1549.5 1289.1L1550.0 1289.6M1562.0 1289.3L1562.5 1288.7L1563.0 1288.0L1563.5 1287.2L1564.0 1286.1L1564.5 1284.7L1565.0 1283.0L1565.5 1280.5M1599.0 1274.0L1599.5 1281.1L1600.0 1282.8L1600.5 1284.2L1601.0 1285.4L1601.5 1286.4L1602.0 1287.2L1602.5 1288.0L1603.0 1288.5L1603.5 1289.0L1604.0 1289.3L1604.5 1289.7L1605.0 1290.0M1651.5 1290.2L1652.0 1288.7L1652.5 1287.0L1653.0 1285.1L1653.5 1283.2L1654.0 1281.5L1654.5 1280.4L1655.0 1280.0L1655.5 1280.3L1656.0 1281.3L1656.5 1282.9L1657.0 1284.9L1657.5 1286.9L1658.0 1288.8L1658.5 1290.4M1752.5 1289.1L1753.0 1288.7L1753.5 1288.3L1754.0 1287.8L1754.5 1287.2L1755.0 1286.5L1755.5 1285.7L1756.0 1284.8L1756.5 1283.8L1757.0 1282.6L1757.5 1281.2L1758.0 1279.4L1758.5 1277.2L1759.0 1274.2M1771.5 1274.1L1772.0 1277.9L1772.5 1280.7L1773.0 1282.8L1773.5 1284.4L1774.0 1285.6L1774.5 1286.5L1775.0 1287.3L1775.5 1288.0L1776.0 1288.5L1776.5 1289.0L1777.0 1289.3M1836.5 1289.1L1837.0 1288.4L1837.5 1287.6L1838.0 1286.7L1838.5 1285.6L1839.0 1284.4L1839.5 1283.0L1840.0 1281.5L1840.5 1278.6M1845.0 1275.1L1845.5 1286.4L1846.0 1288.0L1846.5 1289.1L1847.0 1289.8M1849.0 1289.7L1849.5 1276.9M1854.5 1285.7L1855.0 1288.0L1855.5 1288.7L1856.0 1289.2M1858.0 1289.1L1858.5 1279.2L1859.0 1265.3M1862.5 1272.8L1863.0 1285.3L1863.5 1289.2" stroke="#1e1e1e" stroke-width="3.6"/>
<path d="M175.0 1280.1L175.5 1280.1L176.0 1280.1L176.5 1280.1L177.0 1280.1L177.5 1280.1L178.0 1280.2L178.5 1280.2L179.0 1281.4L179.5 1281.4L180.0 1281.4L180.5 1281.4L181.0 1281.4L181.5 1281.4L182.0 1281.4L182.5 1280.1L183.0 1280.1L183.5 1280.1L184.0 1280.1L184.5 1280.1L185.0 1280.1L185.5 1280.2L186.0 1281.4L186.5 1281.4L187.0 1281.5L187.5 1281.5L188.0 1281.5L188.5 1281.5L189.0 1281.5L189.5 1281.4L190.0 1281.4L190.5 1281.4L191.0 1281.4L191.5 1281.4L192.0 1281.4L192.5 1281.4L193.0 1280.2L193.5 1280.2L194.0 1280.2L194.5 1280.1L195.0 1280.1L195.5 1280.2L196.0 1280.2L196.5 1280.2L197.0 1276.4L197.5 1276.4L198.0 1276.5L198.5 1276.5L199.0 1276.5L199.5 1276.6L200.0 1276.6L200.5 1281.7L201.0 1281.7L201.5 1281.8L202.0 1281.8L202.5 1281.8L203.0 1281.8L203.5 1281.9L204.0 1281.9L204.5 1281.9L205.0 1281.9L205.5 1281.9L206.0 1282.0L206.5 1282.0L207.0 1282.0L207.5 1282.0L208.0 1282.0L208.5 1282.0L209.0 1282.0L209.5 1282.0L210.0 1282.0L210.5 1282.1L211.0 1278.5L211.5 1278.6L212.0 1278.6L212.5 1278.6L213.0 1278.7L213.5 1278.6L214.0 1278.6L214.5 1278.6L215.0 1282.2L215.5 1282.1L216.0 1282.1L216.5 1282.1L217.0 1282.0L217.5 1281.9L218.0 1281.8L218.5 1281.7L219.0 1281.6L219.5 1281.5L220.0 1281.4L220.5 1281.3L221.0 1281.3L221.5 1281.3L222.0 1280.1L222.5 1280.0L223.0 1280.0L223.5 1280.0L224.0 1280.0L224.5 1279.9L225.0 1279.9L225.5 1277.5L226.0 1277.5L226.5 1277.4L227.0 1277.4L227.5 1277.3L228.0 1277.2L228.5 1277.1L229.0 1280.6L229.5 1280.5L230.0 1280.4L230.5 1280.3L231.0 1280.1L231.5 1280.1L232.0 1280.0L232.5 1279.9L233.0 1278.6L233.5 1278.5L234.0 1278.4L234.5 1278.4L235.0 1278.4L235.5 1278.4L236.0 1278.3L236.5 1278.3L237.0 1278.3L237.5 1278.3L238.0 1278.3L238.5 1278.3L239.0 1278.3L239.5 1278.3L240.0 1278.3L240.5 1278.3L241.0 1278.3L241.5 1278.3L242.0 1278.4L242.5 1278.5L243.0 1278.6L243.5 1278.7L244.0 1278.8L244.5 1278.9L245.0 1279.0L245.5 1279.0L246.0 1279.0L246.5 1279.1L247.0 1277.9L247.5 1277.9L248.0 1277.9L248.5 1277.9L249.0 1277.9L249.5 1277.9L250.0 1277.9L250.5 1277.9L251.0 1280.3L251.5 1280.3L252.0 1280.3L252.5 1280.3L253.0 1280.2L253.5 1280.2L254.0 1280.2L254.5 1279.0L255.0 1279.0L255.5 1278.9L256.0 1278.9L256.5 1278.8L257.0 1278.7L257.5 1278.6L258.0 1279.7L258.5 1279.6L259.0 1279.5L259.5 1279.4L260.0 1279.4L260.5 1279.3L261.0 1279.3L261.5 1275.7L262.0 1275.7L262.5 1275.6L263.0 1275.6L263.5 1275.6L264.0 1275.6L264.5 1275.7L265.0 1278.1L265.5 1278.1L266.0 1278.1L266.5 1278.1L267.0 1278.1L267.5 1278.1L268.0 1278.0L268.5 1278.0L269.0 1272.6L269.5 1272.6L270.0 1272.6L270.5 1272.5L271.0 1272.6L271.5 1272.6L272.0 1272.6L272.5 1276.8L273.0 1276.8L273.5 1276.8L274.0 1276.9L274.5 1276.9L275.0 1276.9L275.5 1277.0L276.0 1279.4L276.5 1279.4L277.0 1279.5L277.5 1279.5L278.0 1279.5L278.5 1279.5L279.0 1279.5L279.5 1275.9L280.0 1275.9L280.5 1275.9L281.0 1275.9L281.5 1275.9L282.0 1275.9L282.5 1275.9L283.0 1279.5L283.5 1279.5L284.0 1279.5L284.5 1279.5L285.0 1279.6L285.5 1279.6L286.0 1279.7L286.5 1279.7L287.0 1277.4L287.5 1277.5L288.0 1277.5L288.5 1277.6L289.0 1277.6L289.5 1277.6L290.0 1277.6L290.5 1277.6L291.0 1277.6L291.5 1277.5L292.0 1277.5L292.5 1277.6L293.0 1277.7L293.5 1277.7L294.0 1280.2L294.5 1280.2L295.0 1280.3L295.5 1280.4L296.0 1280.4L296.5 1280.4L297.0 1280.4L297.5 1280.4L298.0 1280.4L298.5 1280.4L299.0 1280.4L299.5 1280.3L300.0 1280.3L300.5 1280.2L301.0 1278.9L301.5 1278.9L302.0 1278.8L302.5 1278.7L303.0 1278.7L303.5 1278.6L304.0 1278.6L304.5 1278.5L305.0 1279.6L305.5 1279.6L306.0 1279.5L306.5 1279.4L307.0 1279.5L307.5 1279.5L308.0 1279.5L308.5 1279.5L309.0 1279.5L309.5 1279.5L310.0 1279.5L310.5 1279.4L311.0 1279.2L311.5 1279.1L312.0 1279.0L312.5 1278.8L313.0 1278.7L313.5 1278.5L314.0 1278.4L314.5 1278.3L315.0 1278.2L315.5 1278.1L316.0 1278.0L316.5 1277.9L317.0 1277.8L317.5 1277.7L318.0 1277.6L318.5 1277.5L319.0 1271.0L319.5 1270.9L320.0 1270.8L320.5 1270.7L321.0 1270.7L321.5 1270.6L322.0 1270.6L322.5 1270.6L323.0 1275.8L323.5 1275.8L324.0 1275.7L324.5 1275.6L325.0 1275.5L325.5 1275.3L326.0 1275.1L326.5 1274.9L327.0 1274.7L327.5 1274.5L328.0 1274.3L328.5 1274.2L329.0 1274.1L329.5 1274.0L330.0 1275.0L330.5 1274.8L331.0 1274.7L331.5 1274.4L332.0 1274.2L332.5 1273.9L333.0 1273.6L333.5 1273.2L334.0 1272.8L334.5 1272.2L335.0 1271.6L335.5 1270.8L336.0 1269.2L336.0 1277.8L335.5 1279.4L335.0 1280.2L334.5 1280.8L334.0 1281.4L333.5 1281.8L333.0 1284.6L332.5 1284.9L332.0 1285.2L331.5 1285.4L331.0 1285.7L330.5 1285.8L330.0 1286.0L329.5 1286.2L329.0 1286.3L328.5 1286.4L328.0 1286.5L327.5 1286.7L327.0 1286.9L326.5 1287.1L326.0 1287.3L325.5 1287.5L325.0 1287.7L324.5 1287.8L324.0 1287.9L323.5 1288.0L323.0 1288.0L322.5 1286.9L322.0 1286.9L321.5 1286.9L321.0 1287.0L320.5 1287.0L320.0 1287.1L319.5 1287.2L319.0 1287.3L318.5 1287.3L318.0 1287.4L317.5 1287.5L317.0 1287.6L316.5 1287.7L316.0 1287.8L315.5 1287.9L315.0 1289.2L314.5 1289.3L314.0 1289.4L313.5 1289.5L313.0 1289.7L312.5 1289.8L312.0 1290.0L311.5 1288.9L311.0 1289.0L310.5 1289.2L310.0 1289.3L309.5 1289.3L309.0 1289.3L308.5 1289.3L308.0 1288.1L307.5 1288.1L307.0 1288.1L306.5 1288.0L306.0 1288.1L305.5 1288.2L305.0 1288.2L304.5 1288.3L304.0 1288.4L303.5 1288.4L303.0 1288.5L302.5 1288.5L302.0 1288.6L301.5 1288.7L301.0 1288.7L300.5 1290.0L300.0 1290.1L299.5 1290.1L299.0 1290.2L298.5 1290.2L298.0 1290.2L297.5 1290.2L297.0 1289.0L296.5 1289.0L296.0 1289.0L295.5 1289.0L295.0 1288.9L294.5 1288.8L294.0 1288.8L293.5 1291.1L293.0 1291.1L292.5 1291.0L292.0 1290.9L291.5 1290.9L291.0 1291.0L290.5 1291.0L290.0 1289.8L289.5 1289.8L289.0 1289.8L288.5 1289.8L288.0 1289.7L287.5 1289.7L287.0 1289.6L286.5 1288.3L286.0 1288.3L285.5 1288.2L285.0 1288.2L284.5 1288.1L284.0 1288.1L283.5 1288.1L283.0 1288.1L282.5 1289.3L282.0 1289.3L281.5 1289.3L281.0 1289.3L280.5 1289.3L280.0 1289.3L279.5 1289.3L279.0 1288.1L278.5 1288.1L278.0 1288.1L277.5 1288.1L277.0 1288.1L276.5 1288.0L276.0 1288.0L275.5 1291.6L275.0 1291.5L274.5 1291.5L274.0 1291.5L273.5 1291.4L273.0 1291.4L272.5 1291.4L272.0 1292.7L271.5 1292.7L271.0 1292.7L270.5 1292.6L270.0 1292.7L269.5 1292.7L269.0 1292.7L268.5 1290.2L268.0 1290.2L267.5 1290.3L267.0 1290.3L266.5 1290.3L266.0 1290.3L265.5 1290.3L265.0 1290.3L264.5 1290.3L264.0 1290.2L263.5 1290.2L263.0 1290.2L262.5 1290.2L262.0 1290.3L261.5 1290.3L261.0 1291.5L260.5 1291.5L260.0 1291.6L259.5 1291.6L259.0 1291.7L258.5 1291.8L258.0 1291.9L257.5 1290.8L257.0 1290.9L256.5 1291.0L256.0 1291.1L255.5 1291.1L255.0 1291.2L254.5 1291.2L254.0 1292.4L253.5 1292.4L253.0 1292.4L252.5 1292.5L252.0 1292.5L251.5 1292.5L251.0 1292.5L250.5 1291.3L250.0 1291.3L249.5 1291.3L249.0 1291.3L248.5 1291.3L248.0 1291.3L247.5 1291.3L247.0 1291.3L246.5 1290.1L246.0 1290.0L245.5 1290.0L245.0 1290.0L244.5 1289.9L244.0 1289.8L243.5 1289.7L243.0 1290.8L242.5 1290.7L242.0 1290.6L241.5 1290.5L241.0 1290.5L240.5 1290.5L240.0 1290.5L239.5 1290.5L239.0 1290.5L238.5 1290.5L238.0 1290.5L237.5 1290.5L237.0 1290.5L236.5 1290.5L236.0 1291.7L235.5 1291.8L235.0 1291.8L234.5 1291.8L234.0 1291.8L233.5 1291.9L233.0 1292.0L232.5 1295.0L232.0 1295.1L231.5 1295.2L231.0 1295.2L230.5 1295.4L230.0 1295.5L229.5 1295.6L229.0 1295.7L228.5 1289.3L228.0 1289.4L227.5 1289.5L227.0 1289.6L226.5 1289.6L226.0 1289.7L225.5 1289.7L225.0 1290.9L224.5 1290.9L224.0 1291.0L223.5 1291.0L223.0 1291.0L222.5 1291.0L222.0 1291.1L221.5 1291.1L221.0 1291.1L220.5 1291.1L220.0 1291.2L219.5 1291.3L219.0 1291.4L218.5 1291.5L218.0 1290.4L217.5 1290.5L217.0 1290.6L216.5 1290.7L216.0 1290.7L215.5 1290.7L215.0 1290.8L214.5 1290.8L214.0 1290.8L213.5 1290.8L213.0 1290.9L212.5 1290.8L212.0 1290.8L211.5 1290.8L211.0 1290.7L210.5 1293.1L210.0 1293.0L209.5 1293.0L209.0 1293.0L208.5 1293.0L208.0 1293.0L207.5 1293.0L207.0 1290.6L206.5 1290.6L206.0 1290.6L205.5 1290.5L205.0 1290.5L204.5 1290.5L204.0 1290.5L203.5 1290.5L203.0 1290.4L202.5 1290.4L202.0 1290.4L201.5 1290.4L201.0 1290.3L200.5 1290.3L200.0 1290.2L199.5 1290.2L199.0 1290.1L198.5 1290.1L198.0 1290.1L197.5 1290.0L197.0 1290.0L196.5 1291.2L196.0 1291.2L195.5 1291.2L195.0 1291.1L194.5 1291.1L194.0 1291.2L193.5 1291.2L193.0 1291.2L192.5 1290.0L192.0 1290.0L191.5 1290.0L191.0 1290.0L190.5 1290.0L190.0 1290.0L189.5 1290.0L189.0 1293.7L188.5 1293.7L188.0 1293.7L187.5 1293.7L187.0 1293.7L186.5 1293.6L186.0 1293.6L185.5 1290.0L185.0 1289.9L184.5 1289.9L184.0 1289.9L183.5 1289.9L183.0 1289.9L182.5 1289.9L182.0 1290.0L181.5 1290.0L181.0 1290.0L180.5 1290.0L180.0 1290.0L179.5 1290.0L179.0 1290.0L178.5 1295.0L178.0 1295.0L177.5 1294.9L177.0 1294.9L176.5 1294.9L176.0 1294.9L175.5 1294.9L175.0 1294.9ZM345.0 1268.0L345.5 1269.1L346.0 1270.0L346.5 1270.7L347.0 1271.3L347.5 1271.9L348.0 1275.9L348.5 1276.3L349.0 1276.7L349.5 1277.0L350.0 1277.2L350.5 1277.3L351.0 1277.5L351.5 1276.4L352.0 1276.4L352.5 1276.5L353.0 1276.6L353.5 1276.6L354.0 1276.6L354.5 1276.6L355.0 1276.5L355.5 1276.5L356.0 1276.5L356.5 1276.4L357.0 1276.4L357.5 1276.4L358.0 1276.4L358.5 1276.4L359.0 1276.3L359.5 1276.3L360.0 1276.3L360.5 1276.3L361.0 1276.3L361.5 1276.4L362.0 1276.4L362.5 1277.7L363.0 1277.7L363.5 1277.7L364.0 1277.8L364.5 1277.7L365.0 1277.6L365.5 1277.6L366.0 1277.5L366.5 1277.4L367.0 1277.4L367.5 1277.3L368.0 1277.2L368.5 1277.2L369.0 1277.2L369.5 1274.7L370.0 1274.7L370.5 1274.6L371.0 1274.6L371.5 1274.6L372.0 1274.7L372.5 1274.7L373.0 1277.2L373.5 1277.3L374.0 1277.3L374.5 1277.4L375.0 1277.4L375.5 1277.4L376.0 1277.4L376.5 1277.3L377.0 1276.1L377.5 1276.1L378.0 1276.0L378.5 1276.0L379.0 1276.0L379.5 1275.9L380.0 1275.9L380.5 1274.7L381.0 1274.6L381.5 1274.6L382.0 1274.5L382.5 1274.6L383.0 1274.7L383.5 1274.7L384.0 1274.7L384.5 1274.8L385.0 1274.8L385.5 1274.9L386.0 1274.9L386.5 1275.0L387.0 1275.0L387.5 1276.3L388.0 1276.3L388.5 1276.4L389.0 1276.4L389.5 1276.3L390.0 1276.2L390.5 1276.0L391.0 1274.7L391.5 1274.5L392.0 1274.3L392.5 1274.1L393.0 1273.9L393.5 1273.8L394.0 1273.6L394.5 1273.4L395.0 1269.1L395.5 1268.9L396.0 1268.7L396.5 1268.4L397.0 1268.1L397.5 1267.8L398.0 1267.5L398.5 1272.4L399.0 1272.0L399.5 1271.5L400.0 1271.0L400.5 1270.3L400.5 1283.7L400.0 1284.4L399.5 1284.9L399.0 1285.4L398.5 1285.8L398.0 1283.8L397.5 1284.1L397.0 1284.4L396.5 1284.7L396.0 1285.0L395.5 1285.2L395.0 1285.4L394.5 1285.6L394.0 1285.8L393.5 1286.0L393.0 1286.1L392.5 1286.3L392.0 1286.5L391.5 1286.7L391.0 1286.9L390.5 1290.8L390.0 1291.0L389.5 1291.1L389.0 1291.2L388.5 1291.2L388.0 1291.1L387.5 1291.1L387.0 1291.0L386.5 1291.0L386.0 1290.9L385.5 1290.9L385.0 1290.8L384.5 1290.8L384.0 1290.7L383.5 1285.7L383.0 1285.7L382.5 1285.6L382.0 1285.5L381.5 1285.6L381.0 1285.6L380.5 1285.7L380.0 1285.7L379.5 1285.7L379.0 1285.8L378.5 1285.8L378.0 1285.8L377.5 1285.9L377.0 1285.9L376.5 1288.3L376.0 1288.4L375.5 1288.4L375.0 1288.4L374.5 1288.4L374.0 1288.3L373.5 1288.3L373.0 1288.2L372.5 1286.9L372.0 1286.9L371.5 1286.8L371.0 1286.8L370.5 1286.8L370.0 1286.9L369.5 1286.9L369.0 1288.2L368.5 1288.2L368.0 1288.2L367.5 1288.3L367.0 1288.4L366.5 1288.4L366.0 1288.5L365.5 1289.8L365.0 1289.8L364.5 1289.9L364.0 1290.0L363.5 1289.9L363.0 1289.9L362.5 1289.9L362.0 1287.4L361.5 1287.4L361.0 1287.3L360.5 1287.3L360.0 1287.3L359.5 1287.3L359.0 1287.3L358.5 1288.6L358.0 1288.6L357.5 1288.6L357.0 1288.6L356.5 1288.6L356.0 1288.7L355.5 1288.7L355.0 1288.7L354.5 1290.0L354.0 1290.0L353.5 1290.0L353.0 1290.0L352.5 1289.9L352.0 1289.8L351.5 1289.8L351.0 1288.5L350.5 1288.3L350.0 1288.2L349.5 1288.0L349.0 1287.7L348.5 1287.3L348.0 1286.9L347.5 1284.1L347.0 1283.5L346.5 1282.9L346.0 1282.2L345.5 1281.3L345.0 1280.2ZM421.5 1271.7L422.0 1272.2L422.5 1272.7L423.0 1273.2L423.5 1272.4L424.0 1272.8L424.5 1273.1L425.0 1273.5L425.5 1273.8L426.0 1274.1L426.5 1274.4L427.0 1275.8L427.5 1276.0L428.0 1276.3L428.5 1276.5L429.0 1276.7L429.5 1276.8L430.0 1276.9L430.5 1277.0L431.0 1275.9L431.5 1276.0L432.0 1276.1L432.5 1276.2L433.0 1276.2L433.5 1276.3L434.0 1276.3L434.5 1275.2L435.0 1275.2L435.5 1275.3L436.0 1275.3L436.5 1275.4L437.0 1275.4L437.5 1275.5L438.0 1278.0L438.5 1278.1L439.0 1278.1L439.5 1278.2L440.0 1278.2L440.5 1278.2L441.0 1278.2L441.5 1277.1L442.0 1277.1L442.5 1277.1L443.0 1277.1L443.5 1277.1L444.0 1277.0L444.5 1276.9L445.0 1278.0L445.5 1278.0L446.0 1277.9L446.5 1277.8L447.0 1277.8L447.5 1277.8L448.0 1277.8L448.5 1277.7L449.0 1276.5L449.5 1276.5L450.0 1276.5L450.5 1276.5L451.0 1276.6L451.5 1276.6L452.0 1276.7L452.5 1274.3L453.0 1274.4L453.5 1274.4L454.0 1274.5L454.5 1274.5L455.0 1274.5L455.5 1274.6L456.0 1275.8L456.5 1275.8L457.0 1275.9L457.5 1275.9L458.0 1275.9L458.5 1276.0L459.0 1276.0L459.5 1278.5L460.0 1278.5L460.5 1278.6L461.0 1278.6L461.5 1278.7L462.0 1278.8L462.5 1278.9L463.0 1279.0L463.5 1279.1L464.0 1279.2L464.5 1279.3L465.0 1279.4L465.5 1279.5L466.0 1279.6L466.5 1279.6L467.0 1278.5L467.5 1278.6L468.0 1278.6L468.5 1278.7L469.0 1278.7L469.5 1278.6L470.0 1278.6L470.5 1278.6L471.0 1278.5L471.5 1278.5L472.0 1278.4L472.5 1278.4L473.0 1278.4L473.5 1278.4L474.0 1273.0L474.5 1273.0L475.0 1273.0L475.5 1273.0L476.0 1273.0L476.5 1273.0L477.0 1273.1L477.5 1279.6L478.0 1279.7L478.5 1279.7L479.0 1279.7L479.5 1279.8L480.0 1279.8L480.5 1279.8L481.0 1276.2L481.5 1276.3L482.0 1276.3L482.5 1276.3L483.0 1276.3L483.5 1276.4L484.0 1276.5L484.5 1276.5L485.0 1280.2L485.5 1280.2L486.0 1280.3L486.5 1280.3L487.0 1280.4L487.5 1280.5L488.0 1280.6L488.5 1278.3L489.0 1278.3L489.5 1278.4L490.0 1278.5L490.5 1278.6L491.0 1278.6L491.5 1278.7L492.0 1277.6L492.5 1277.7L493.0 1277.8L493.5 1277.8L494.0 1277.8L494.5 1277.8L495.0 1277.8L495.5 1281.4L496.0 1281.4L496.5 1281.4L497.0 1281.4L497.5 1281.4L498.0 1281.3L498.5 1281.2L499.0 1280.0L499.5 1279.9L500.0 1279.8L500.5 1279.7L501.0 1279.7L501.5 1279.7L502.0 1279.7L502.5 1279.7L503.0 1278.6L503.5 1278.6L504.0 1278.6L504.5 1278.6L505.0 1278.5L505.5 1278.5L506.0 1278.4L506.5 1279.5L507.0 1279.5L507.5 1279.4L508.0 1279.4L508.5 1279.3L509.0 1279.3L509.5 1279.3L510.0 1280.5L510.5 1280.5L511.0 1280.5L511.5 1280.4L512.0 1280.4L512.5 1280.4L513.0 1280.3L513.5 1277.9L514.0 1277.8L514.5 1277.8L515.0 1277.8L515.5 1277.8L516.0 1277.8L516.5 1277.9L517.0 1279.2L517.5 1279.2L518.0 1279.3L518.5 1279.3L519.0 1279.4L519.5 1279.4L520.0 1279.4L520.5 1279.4L521.0 1280.6L521.5 1280.6L522.0 1280.6L522.5 1280.6L523.0 1280.6L523.5 1280.6L524.0 1280.7L524.5 1280.7L525.0 1280.8L525.5 1280.8L526.0 1280.8L526.5 1280.8L527.0 1280.8L527.5 1280.8L528.0 1279.6L528.5 1279.6L529.0 1279.6L529.5 1279.6L530.0 1279.6L530.5 1279.6L531.0 1279.6L531.5 1280.8L532.0 1280.8L532.5 1280.8L533.0 1280.8L533.5 1280.8L534.0 1280.8L534.5 1280.9L535.0 1277.3L535.5 1277.4L536.0 1277.4L536.5 1277.5L537.0 1277.5L537.5 1277.4L538.0 1277.4L538.5 1277.4L539.0 1280.9L539.5 1280.9L540.0 1280.9L540.5 1280.8L541.0 1280.8L541.5 1280.8L542.0 1280.8L542.5 1280.8L543.0 1280.8L543.5 1280.8L544.0 1280.8L544.5 1280.7L545.0 1280.7L545.5 1280.7L546.0 1277.1L546.5 1277.0L547.0 1277.0L547.5 1277.0L548.0 1277.0L548.5 1277.0L549.0 1277.1L549.5 1279.5L550.0 1279.5L550.5 1279.5L551.0 1279.5L551.5 1279.5L552.0 1279.4L552.5 1279.3L553.0 1276.8L553.5 1276.7L554.0 1276.6L554.5 1276.5L555.0 1276.5L555.5 1276.5L556.0 1276.5L556.5 1276.5L557.0 1278.9L557.5 1278.9L558.0 1278.9L558.5 1279.0L559.0 1279.0L559.5 1279.0L560.0 1279.1L560.5 1276.7L561.0 1276.7L561.5 1276.8L562.0 1276.8L562.5 1276.9L563.0 1277.0L563.5 1277.1L564.0 1275.8L564.5 1275.9L565.0 1276.0L565.5 1276.1L566.0 1276.2L566.5 1276.2L567.0 1276.2L567.5 1281.3L568.0 1281.3L568.5 1281.3L569.0 1281.4L569.5 1281.4L570.0 1281.4L570.5 1281.4L571.0 1281.4L571.5 1281.4L572.0 1281.4L572.5 1281.4L573.0 1281.5L573.5 1281.5L574.0 1281.5L574.5 1281.5L575.0 1281.6L575.5 1281.6L576.0 1281.6L576.5 1281.6L577.0 1281.6L577.5 1281.6L578.0 1281.6L578.5 1276.5L579.0 1276.5L579.5 1276.5L580.0 1276.5L580.5 1276.4L581.0 1276.4L581.5 1276.3L582.0 1278.9L582.5 1278.9L583.0 1278.8L583.5 1278.8L584.0 1278.7L584.5 1278.7L585.0 1278.7L585.5 1277.4L586.0 1277.4L586.5 1277.4L587.0 1277.3L587.5 1277.4L588.0 1277.4L588.5 1277.5L589.0 1274.6L589.5 1274.7L590.0 1274.8L590.5 1274.8L591.0 1274.8L591.5 1274.8L592.0 1274.7L592.5 1274.6L593.0 1278.7L593.5 1278.6L594.0 1278.5L594.5 1278.4L595.0 1278.4L595.5 1278.3L596.0 1278.2L596.5 1276.9L597.0 1276.8L597.5 1276.7L598.0 1276.6L598.5 1276.5L599.0 1276.4L599.5 1276.3L600.0 1274.8L600.5 1274.6L601.0 1274.5L601.5 1274.4L602.0 1274.4L602.5 1274.3L603.0 1274.3L603.5 1278.0L604.0 1277.9L604.5 1277.9L605.0 1277.8L605.5 1277.6L606.0 1277.5L606.5 1277.3L607.0 1274.7L607.5 1274.4L608.0 1274.2L608.5 1273.9L609.0 1273.6L609.5 1273.3L610.0 1273.0L610.5 1272.6L611.0 1270.8L611.5 1270.4L612.0 1269.8L612.5 1269.3L613.0 1268.6L613.5 1267.8L613.5 1281.4L613.0 1282.2L612.5 1282.9L612.0 1283.4L611.5 1284.0L611.0 1284.4L610.5 1286.0L610.0 1286.4L609.5 1286.7L609.0 1287.0L608.5 1287.3L608.0 1287.6L607.5 1287.8L607.0 1288.1L606.5 1289.5L606.0 1289.7L605.5 1289.8L605.0 1290.0L604.5 1290.1L604.0 1290.1L603.5 1290.2L603.0 1287.9L602.5 1287.9L602.0 1288.0L601.5 1288.0L601.0 1288.1L600.5 1288.2L600.0 1288.4L599.5 1295.0L599.0 1295.1L598.5 1295.2L598.0 1295.3L597.5 1295.4L597.0 1295.5L596.5 1295.6L596.0 1290.4L595.5 1290.5L595.0 1290.6L594.5 1290.6L594.0 1290.7L593.5 1290.8L593.0 1290.9L592.5 1293.3L592.0 1293.4L591.5 1293.5L591.0 1293.5L590.5 1293.5L590.0 1293.5L589.5 1293.4L589.0 1293.3L588.5 1290.9L588.0 1290.8L587.5 1290.8L587.0 1290.7L586.5 1290.8L586.0 1290.8L585.5 1290.8L585.0 1290.9L584.5 1290.9L584.0 1290.9L583.5 1291.0L583.0 1291.0L582.5 1291.1L582.0 1291.1L581.5 1289.9L581.0 1290.0L580.5 1290.0L580.0 1290.1L579.5 1290.1L579.0 1290.1L578.5 1290.1L578.0 1291.4L577.5 1291.4L577.0 1291.4L576.5 1291.4L576.0 1291.4L575.5 1291.4L575.0 1291.4L574.5 1291.3L574.0 1291.3L573.5 1291.3L573.0 1291.3L572.5 1291.2L572.0 1291.2L571.5 1291.2L571.0 1291.2L570.5 1295.0L570.0 1295.0L569.5 1295.0L569.0 1295.0L568.5 1294.9L568.0 1294.9L567.5 1294.9L567.0 1289.8L566.5 1289.8L566.0 1289.8L565.5 1289.7L565.0 1289.6L564.5 1289.5L564.0 1289.4L563.5 1290.5L563.0 1290.4L562.5 1290.3L562.0 1290.2L561.5 1290.2L561.0 1290.1L560.5 1290.1L560.0 1288.9L559.5 1288.8L559.0 1288.8L558.5 1288.8L558.0 1288.7L557.5 1288.7L557.0 1288.7L556.5 1291.1L556.0 1291.1L555.5 1291.1L555.0 1291.1L554.5 1291.1L554.0 1291.2L553.5 1291.3L553.0 1291.4L552.5 1289.1L552.0 1289.2L551.5 1289.3L551.0 1289.3L550.5 1289.3L550.0 1289.3L549.5 1289.3L549.0 1290.5L548.5 1290.4L548.0 1290.4L547.5 1290.4L547.0 1290.4L546.5 1290.4L546.0 1290.5L545.5 1294.3L545.0 1294.3L544.5 1294.3L544.0 1294.4L543.5 1294.4L543.0 1294.4L542.5 1294.4L542.0 1294.4L541.5 1294.4L541.0 1294.4L540.5 1294.4L540.0 1294.5L539.5 1294.5L539.0 1294.5L538.5 1292.0L538.0 1292.0L537.5 1292.0L537.0 1292.1L536.5 1292.1L536.0 1292.0L535.5 1292.0L535.0 1291.9L534.5 1290.7L534.0 1290.6L533.5 1290.6L533.0 1290.6L532.5 1290.6L532.0 1290.6L531.5 1290.6L531.0 1291.8L530.5 1291.8L530.0 1291.8L529.5 1291.8L529.0 1291.8L528.5 1291.8L528.0 1291.8L527.5 1289.4L527.0 1289.4L526.5 1289.4L526.0 1289.4L525.5 1289.4L525.0 1289.4L524.5 1289.3L524.0 1289.3L523.5 1289.2L523.0 1289.2L522.5 1289.2L522.0 1289.2L521.5 1289.2L521.0 1289.2L520.5 1289.2L520.0 1289.2L519.5 1289.2L519.0 1289.2L518.5 1289.1L518.0 1289.1L517.5 1289.0L517.0 1289.0L516.5 1291.3L516.0 1291.2L515.5 1291.2L515.0 1291.2L514.5 1291.2L514.0 1291.2L513.5 1291.3L513.0 1288.9L512.5 1289.0L512.0 1289.0L511.5 1289.0L511.0 1289.1L510.5 1289.1L510.0 1289.1L509.5 1294.1L509.0 1294.1L508.5 1294.1L508.0 1294.2L507.5 1294.2L507.0 1294.3L506.5 1294.3L506.0 1290.6L505.5 1290.7L505.0 1290.7L504.5 1290.8L504.0 1290.8L503.5 1290.8L503.0 1290.8L502.5 1289.5L502.0 1289.5L501.5 1289.5L501.0 1289.5L500.5 1289.5L500.0 1289.6L499.5 1289.7L499.0 1289.8L498.5 1293.4L498.0 1293.5L497.5 1293.6L497.0 1293.6L496.5 1293.6L496.0 1293.6L495.5 1293.6L495.0 1290.0L494.5 1290.0L494.0 1290.0L493.5 1290.0L493.0 1290.0L492.5 1289.9L492.0 1289.8L491.5 1289.7L491.0 1289.6L490.5 1289.6L490.0 1289.5L489.5 1289.4L489.0 1289.3L488.5 1289.3L488.0 1291.6L487.5 1291.5L487.0 1291.4L486.5 1291.3L486.0 1291.3L485.5 1291.2L485.0 1291.2L484.5 1288.7L484.0 1288.7L483.5 1288.6L483.0 1288.5L482.5 1288.5L482.0 1288.5L481.5 1288.5L481.0 1288.4L480.5 1290.8L480.0 1290.8L479.5 1290.8L479.0 1290.7L478.5 1290.7L478.0 1290.7L477.5 1290.6L477.0 1290.6L476.5 1290.5L476.0 1290.5L475.5 1290.5L475.0 1290.5L474.5 1290.5L474.0 1290.5L473.5 1288.2L473.0 1288.2L472.5 1288.2L472.0 1288.2L471.5 1288.3L471.0 1288.3L470.5 1288.4L470.0 1290.8L469.5 1290.8L469.0 1290.9L468.5 1290.9L468.0 1290.8L467.5 1290.8L467.0 1290.7L466.5 1288.2L466.0 1288.2L465.5 1288.1L465.0 1288.0L464.5 1287.9L464.0 1287.8L463.5 1287.7L463.0 1287.6L462.5 1287.5L462.0 1287.4L461.5 1287.3L461.0 1287.2L460.5 1287.2L460.0 1287.1L459.5 1287.1L459.0 1288.2L458.5 1288.2L458.0 1288.1L457.5 1288.1L457.0 1288.1L456.5 1288.0L456.0 1288.0L455.5 1291.8L455.0 1291.7L454.5 1291.7L454.0 1291.7L453.5 1291.6L453.0 1291.6L452.5 1291.5L452.0 1286.5L451.5 1286.4L451.0 1286.4L450.5 1286.3L450.0 1286.3L449.5 1286.3L449.0 1286.3L448.5 1287.5L448.0 1287.6L447.5 1287.6L447.0 1287.6L446.5 1287.6L446.0 1287.7L445.5 1287.8L445.0 1287.8L444.5 1287.9L444.0 1288.0L443.5 1288.1L443.0 1288.1L442.5 1288.1L442.0 1288.1L441.5 1288.1L441.0 1289.2L440.5 1289.2L440.0 1289.2L439.5 1289.2L439.0 1289.1L438.5 1289.1L438.0 1289.0L437.5 1288.9L437.0 1288.8L436.5 1288.8L436.0 1288.7L435.5 1288.7L435.0 1288.6L434.5 1288.6L434.0 1286.1L433.5 1286.1L433.0 1286.0L432.5 1286.0L432.0 1285.9L431.5 1285.8L431.0 1285.7L430.5 1286.8L430.0 1286.7L429.5 1286.6L429.0 1286.5L428.5 1286.3L428.0 1286.1L427.5 1285.8L427.0 1285.6L426.5 1289.2L426.0 1288.9L425.5 1288.6L425.0 1288.3L424.5 1287.9L424.0 1287.6L423.5 1287.2L423.0 1285.4L422.5 1284.9L422.0 1284.4L421.5 1283.9ZM629.5 1272.7L630.0 1273.5L630.5 1274.3L631.0 1274.9L631.5 1275.5L632.0 1276.0L632.5 1276.5L633.0 1276.9L633.5 1277.3L634.0 1277.6L634.5 1277.9L635.0 1278.2L635.5 1278.4L636.0 1276.2L636.5 1276.4L637.0 1276.6L637.5 1276.8L638.0 1276.9L638.5 1277.0L639.0 1277.0L639.5 1279.5L640.0 1279.5L640.5 1279.6L641.0 1279.6L641.5 1279.7L642.0 1279.7L642.5 1279.8L643.0 1279.8L643.5 1279.9L644.0 1279.9L644.5 1279.9L645.0 1279.9L645.5 1279.9L646.0 1279.8L646.5 1279.7L647.0 1279.6L647.5 1279.6L648.0 1279.5L648.5 1279.4L649.0 1279.3L649.5 1279.3L650.0 1279.2L650.5 1276.7L651.0 1276.5L651.5 1276.2L652.0 1275.9L652.5 1275.3L653.0 1274.6L653.5 1273.8L654.0 1271.5L654.5 1270.2L655.0 1268.8L655.0 1282.2L654.5 1283.6L654.0 1284.9L653.5 1284.8L653.0 1285.6L652.5 1286.3L652.0 1286.9L651.5 1287.2L651.0 1287.5L650.5 1287.7L650.0 1287.8L649.5 1287.9L649.0 1287.9L648.5 1288.0L648.0 1288.1L647.5 1288.2L647.0 1288.2L646.5 1291.9L646.0 1292.0L645.5 1292.1L645.0 1292.1L644.5 1292.1L644.0 1292.1L643.5 1292.1L643.0 1292.0L642.5 1288.4L642.0 1288.3L641.5 1288.3L641.0 1288.2L640.5 1288.2L640.0 1288.1L639.5 1288.1L639.0 1288.0L638.5 1288.0L638.0 1287.9L637.5 1287.8L637.0 1287.6L636.5 1287.4L636.0 1287.2L635.5 1288.2L635.0 1288.0L634.5 1287.7L634.0 1287.4L633.5 1287.1L633.0 1286.7L632.5 1286.3L632.0 1285.8L631.5 1285.3L631.0 1284.7L630.5 1284.1L630.0 1283.3L629.5 1282.5ZM662.0 1270.0L662.5 1271.3L663.0 1272.4L663.5 1273.3L664.0 1274.1L664.5 1274.7L665.0 1277.6L665.5 1277.9L666.0 1278.2L666.5 1278.3L667.0 1278.5L667.5 1278.6L668.0 1278.7L668.5 1278.8L669.0 1278.8L669.5 1278.9L670.0 1278.9L670.5 1279.0L671.0 1279.1L671.5 1279.1L672.0 1280.4L672.5 1280.5L673.0 1280.5L673.5 1280.6L674.0 1280.6L674.5 1280.6L675.0 1280.6L675.5 1280.6L676.0 1280.6L676.5 1280.6L677.0 1280.6L677.5 1280.6L678.0 1280.7L678.5 1280.7L679.0 1277.1L679.5 1277.2L680.0 1277.2L680.5 1277.2L681.0 1277.2L681.5 1277.1L682.0 1277.1L682.5 1277.0L683.0 1279.4L683.5 1279.3L684.0 1279.2L684.5 1279.1L685.0 1279.0L685.5 1278.9L686.0 1278.8L686.5 1279.9L687.0 1279.8L687.5 1279.6L688.0 1279.4L688.5 1279.2L689.0 1279.0L689.5 1278.8L690.0 1277.3L690.5 1277.0L691.0 1276.6L691.5 1276.1L692.0 1275.6L692.5 1274.8L693.0 1274.0L693.5 1272.9L694.0 1271.7L694.0 1282.7L693.5 1283.9L693.0 1283.8L692.5 1284.6L692.0 1285.4L691.5 1285.9L691.0 1286.4L690.5 1286.8L690.0 1287.1L689.5 1287.4L689.0 1287.6L688.5 1287.8L688.0 1288.0L687.5 1288.2L687.0 1288.4L686.5 1288.5L686.0 1291.0L685.5 1291.1L685.0 1291.2L684.5 1291.3L684.0 1291.4L683.5 1291.5L683.0 1291.6L682.5 1290.4L682.0 1290.5L681.5 1290.5L681.0 1290.6L680.5 1290.6L680.0 1290.6L679.5 1290.6L679.0 1290.5L678.5 1291.7L678.0 1291.7L677.5 1291.6L677.0 1291.6L676.5 1291.6L676.0 1291.6L675.5 1291.6L675.0 1289.2L674.5 1289.2L674.0 1289.2L673.5 1289.2L673.0 1289.1L672.5 1289.1L672.0 1289.0L671.5 1290.1L671.0 1290.1L670.5 1290.0L670.0 1289.9L669.5 1289.9L669.0 1289.8L668.5 1289.8L668.0 1288.5L667.5 1288.4L667.0 1288.3L666.5 1288.1L666.0 1288.0L665.5 1287.7L665.0 1287.4L664.5 1286.9L664.0 1286.3L663.5 1285.5L663.0 1284.6L662.5 1283.5L662.0 1282.2ZM700.5 1272.1L701.0 1270.9L701.5 1271.9L702.0 1272.8L702.5 1273.5L703.0 1274.1L703.5 1274.6L704.0 1275.0L704.5 1274.2L705.0 1274.5L705.5 1274.8L706.0 1275.0L706.5 1275.2L707.0 1275.4L707.5 1275.6L708.0 1278.2L708.5 1278.4L709.0 1278.5L709.5 1278.7L710.0 1278.8L710.5 1278.9L711.0 1279.1L711.5 1280.4L712.0 1280.5L712.5 1280.6L713.0 1280.7L713.5 1280.8L714.0 1280.8L714.5 1280.9L715.0 1279.7L715.5 1279.8L716.0 1279.8L716.5 1279.9L717.0 1279.9L717.5 1279.9L718.0 1279.9L718.5 1279.9L719.0 1281.1L719.5 1281.1L720.0 1281.1L720.5 1281.1L721.0 1281.1L721.5 1281.0L722.0 1281.0L722.5 1280.9L723.0 1280.9L723.5 1280.9L724.0 1280.8L724.5 1280.8L725.0 1280.8L725.5 1280.7L726.0 1280.7L726.5 1280.7L727.0 1280.6L727.5 1280.6L728.0 1280.6L728.5 1280.5L729.0 1280.5L729.5 1276.8L730.0 1276.8L730.5 1276.7L731.0 1276.7L731.5 1276.6L732.0 1276.6L732.5 1276.5L733.0 1276.5L733.5 1276.4L734.0 1276.4L734.5 1276.3L735.0 1276.3L735.5 1276.3L736.0 1276.3L736.5 1276.3L737.0 1277.5L737.5 1277.5L738.0 1277.5L738.5 1277.5L739.0 1277.4L739.5 1277.4L740.0 1277.4L740.5 1276.2L741.0 1276.1L741.5 1276.1L742.0 1276.0L742.5 1275.9L743.0 1275.7L743.5 1275.5L744.0 1278.9L744.5 1278.7L745.0 1278.5L745.5 1278.2L746.0 1278.1L746.5 1277.9L747.0 1277.7L747.5 1277.4L748.0 1277.1L748.5 1276.8L749.0 1276.4L749.5 1275.9L750.0 1275.3L750.5 1274.6L751.0 1273.7L751.5 1272.4L751.5 1281.0L751.0 1282.3L750.5 1289.7L750.0 1290.4L749.5 1291.0L749.0 1291.5L748.5 1291.9L748.0 1292.2L747.5 1292.5L747.0 1286.3L746.5 1286.5L746.0 1286.7L745.5 1286.8L745.0 1287.1L744.5 1287.3L744.0 1287.5L743.5 1287.7L743.0 1287.9L742.5 1288.1L742.0 1288.2L741.5 1288.3L741.0 1288.3L740.5 1288.4L740.0 1288.4L739.5 1288.4L739.0 1288.4L738.5 1288.5L738.0 1288.5L737.5 1288.5L737.0 1288.5L736.5 1289.7L736.0 1289.7L735.5 1289.7L735.0 1289.7L734.5 1289.7L734.0 1289.8L733.5 1289.8L733.0 1289.9L732.5 1293.7L732.0 1293.8L731.5 1293.8L731.0 1293.9L730.5 1293.9L730.0 1294.0L729.5 1294.0L729.0 1289.1L728.5 1289.1L728.0 1289.2L727.5 1289.2L727.0 1289.2L726.5 1289.3L726.0 1289.3L725.5 1289.3L725.0 1289.4L724.5 1289.4L724.0 1289.4L723.5 1289.5L723.0 1289.5L722.5 1289.5L722.0 1293.2L721.5 1293.2L721.0 1293.3L720.5 1293.3L720.0 1293.3L719.5 1293.3L719.0 1293.3L718.5 1290.9L718.0 1290.9L717.5 1290.9L717.0 1290.9L716.5 1290.9L716.0 1290.8L715.5 1290.8L715.0 1290.7L714.5 1290.7L714.0 1290.6L713.5 1290.6L713.0 1290.5L712.5 1290.4L712.0 1290.3L711.5 1290.2L711.0 1290.1L710.5 1289.9L710.0 1289.8L709.5 1289.7L709.0 1289.5L708.5 1289.4L708.0 1289.2L707.5 1287.8L707.0 1287.6L706.5 1287.4L706.0 1287.2L705.5 1287.0L705.0 1286.7L704.5 1286.4L704.0 1286.0L703.5 1285.6L703.0 1285.1L702.5 1284.5L702.0 1283.8L701.5 1282.9L701.0 1281.9L700.5 1281.9ZM790.0 1269.1L790.5 1269.3L791.0 1273.0L791.5 1273.2L792.0 1273.4L792.5 1273.5L793.0 1273.6L793.5 1273.8L794.0 1273.9L794.5 1274.0L795.0 1274.1L795.5 1274.2L796.0 1274.3L796.5 1274.5L797.0 1274.7L797.5 1274.9L798.0 1275.0L798.5 1275.2L799.0 1275.4L799.5 1275.6L800.0 1275.7L800.5 1275.8L801.0 1276.0L801.5 1276.1L802.0 1276.2L802.5 1276.3L803.0 1276.4L803.5 1276.5L804.0 1276.5L804.5 1276.5L805.0 1272.9L805.5 1272.9L806.0 1273.0L806.5 1273.0L807.0 1273.0L807.5 1273.0L808.0 1273.0L808.5 1273.0L809.0 1276.6L809.5 1276.6L810.0 1276.6L810.5 1276.6L811.0 1276.6L811.5 1276.7L812.0 1276.7L812.5 1276.8L813.0 1276.8L813.5 1276.8L814.0 1276.9L814.5 1276.8L815.0 1276.6L815.5 1276.5L816.0 1275.2L816.5 1275.1L817.0 1275.0L817.5 1274.9L818.0 1274.9L818.5 1274.9L819.0 1275.0L819.5 1276.3L820.0 1276.3L820.5 1276.4L821.0 1276.4L821.5 1276.5L822.0 1276.5L822.5 1276.5L823.0 1276.5L823.5 1276.5L824.0 1276.6L824.5 1276.6L825.0 1276.6L825.5 1276.6L826.0 1276.7L826.5 1276.7L827.0 1274.4L827.5 1274.4L828.0 1274.4L828.5 1274.4L829.0 1274.3L829.5 1274.2L830.0 1274.1L830.5 1275.1L831.0 1275.0L831.5 1274.9L832.0 1274.7L832.5 1274.6L833.0 1274.4L833.5 1274.3L834.0 1272.9L834.5 1272.7L835.0 1272.5L835.5 1272.3L835.5 1288.3L835.0 1288.5L834.5 1288.7L834.0 1288.9L833.5 1285.3L833.0 1285.4L832.5 1285.6L832.0 1285.7L831.5 1285.9L831.0 1286.0L830.5 1286.1L830.0 1290.1L829.5 1290.2L829.0 1290.3L828.5 1290.4L828.0 1290.4L827.5 1290.4L827.0 1290.4L826.5 1285.3L826.0 1285.3L825.5 1285.2L825.0 1285.2L824.5 1285.2L824.0 1285.2L823.5 1285.1L823.0 1285.1L822.5 1285.1L822.0 1285.1L821.5 1285.1L821.0 1285.0L820.5 1285.0L820.0 1284.9L819.5 1284.9L819.0 1284.8L818.5 1284.7L818.0 1284.7L817.5 1284.7L817.0 1284.8L816.5 1284.9L816.0 1285.0L815.5 1291.6L815.0 1291.7L814.5 1291.9L814.0 1292.0L813.5 1291.9L813.0 1291.9L812.5 1291.9L812.0 1285.3L811.5 1285.3L811.0 1285.2L810.5 1285.2L810.0 1285.2L809.5 1285.2L809.0 1285.2L808.5 1286.4L808.0 1286.4L807.5 1286.4L807.0 1286.4L806.5 1286.4L806.0 1286.4L805.5 1286.3L805.0 1286.3L804.5 1286.3L804.0 1286.3L803.5 1286.3L803.0 1286.2L802.5 1286.1L802.0 1286.0L801.5 1285.9L801.0 1289.6L800.5 1289.4L800.0 1289.3L799.5 1289.2L799.0 1289.0L798.5 1288.8L798.0 1288.6L797.5 1284.7L797.0 1284.5L796.5 1284.3L796.0 1284.1L795.5 1284.0L795.0 1283.9L794.5 1283.8L794.0 1282.5L793.5 1282.4L793.0 1282.2L792.5 1282.1L792.0 1282.0L791.5 1281.8L791.0 1281.6L790.5 1282.7L790.0 1282.5ZM874.5 1272.9L875.0 1273.5L875.5 1273.9L876.0 1274.3L876.5 1274.7L877.0 1276.2L877.5 1276.5L878.0 1276.8L878.5 1277.0L879.0 1277.3L879.5 1277.5L880.0 1277.7L880.5 1277.9L881.0 1276.9L881.5 1277.0L882.0 1277.2L882.5 1277.3L883.0 1277.4L883.5 1277.5L884.0 1277.6L884.5 1278.9L885.0 1278.9L885.5 1279.0L886.0 1279.1L886.5 1279.1L887.0 1279.1L887.5 1279.0L888.0 1280.2L888.5 1280.2L889.0 1280.2L889.5 1280.1L890.0 1280.2L890.5 1280.3L891.0 1280.4L891.5 1280.5L892.0 1280.6L892.5 1280.7L893.0 1280.8L893.5 1280.9L894.0 1281.0L894.5 1281.1L895.0 1274.7L895.5 1274.8L896.0 1274.9L896.5 1275.0L897.0 1275.1L897.5 1275.2L898.0 1275.3L898.5 1275.4L899.0 1280.9L899.5 1281.0L900.0 1281.1L900.5 1281.2L901.0 1281.2L901.5 1281.3L902.0 1281.3L902.5 1280.2L903.0 1280.3L903.5 1280.3L904.0 1280.4L904.5 1280.5L905.0 1280.6L905.5 1280.7L906.0 1283.2L906.5 1283.3L907.0 1283.4L907.5 1283.5L908.0 1283.5L908.5 1283.6L909.0 1283.7L909.5 1281.3L910.0 1281.4L910.5 1281.5L911.0 1281.5L911.5 1281.6L912.0 1281.6L912.5 1281.6L913.0 1281.5L913.5 1281.5L914.0 1281.5L914.5 1281.5L915.0 1281.6L915.5 1281.6L916.0 1281.7L916.5 1281.7L917.0 1284.2L917.5 1284.2L918.0 1284.3L918.5 1284.3L919.0 1284.3L919.5 1284.3L920.0 1284.3L920.5 1279.3L921.0 1279.2L921.5 1279.2L922.0 1279.2L922.5 1279.1L923.0 1279.1L923.5 1279.0L924.0 1282.8L924.5 1282.7L925.0 1282.7L925.5 1282.6L926.0 1282.5L926.5 1282.4L927.0 1282.3L927.5 1283.5L928.0 1283.4L928.5 1283.3L929.0 1283.2L929.5 1283.1L930.0 1283.2L930.5 1283.2L931.0 1280.8L931.5 1280.8L932.0 1280.8L932.5 1280.8L933.0 1280.8L933.5 1280.7L934.0 1280.5L934.5 1280.4L935.0 1279.1L935.5 1278.9L936.0 1278.7L936.5 1278.6L937.0 1278.5L937.5 1278.4L938.0 1278.3L938.5 1278.2L939.0 1278.0L939.5 1277.7L940.0 1277.4L940.5 1277.1L941.0 1276.6L941.5 1276.0L942.0 1277.5L942.5 1276.3L942.5 1289.7L942.0 1290.9L941.5 1291.8L941.0 1292.4L940.5 1292.9L940.0 1293.2L939.5 1293.5L939.0 1293.8L938.5 1294.0L938.0 1290.5L937.5 1290.6L937.0 1290.7L936.5 1290.8L936.0 1290.9L935.5 1291.1L935.0 1291.3L934.5 1292.6L934.0 1292.7L933.5 1292.9L933.0 1293.0L932.5 1293.0L932.0 1293.0L931.5 1293.0L931.0 1293.0L930.5 1291.8L930.0 1291.8L929.5 1291.7L929.0 1291.8L928.5 1291.9L928.0 1292.0L927.5 1292.1L927.0 1293.3L926.5 1293.4L926.0 1293.5L925.5 1293.6L925.0 1293.7L924.5 1293.7L924.0 1293.8L923.5 1292.6L923.0 1292.7L922.5 1292.7L922.0 1292.8L921.5 1292.8L921.0 1292.8L920.5 1292.9L920.0 1295.3L919.5 1295.3L919.0 1295.3L918.5 1295.3L918.0 1295.3L917.5 1295.2L917.0 1295.2L916.5 1293.9L916.0 1293.9L915.5 1293.8L915.0 1293.8L914.5 1293.7L914.0 1293.7L913.5 1293.7L913.0 1293.7L912.5 1295.0L912.0 1295.0L911.5 1295.0L911.0 1294.9L910.5 1294.9L910.0 1294.8L909.5 1294.7L909.0 1294.7L908.5 1294.6L908.0 1294.5L907.5 1294.5L907.0 1294.4L906.5 1294.3L906.0 1294.2L905.5 1295.3L905.0 1295.2L904.5 1295.1L904.0 1295.0L903.5 1294.9L903.0 1294.9L902.5 1294.8L902.0 1292.3L901.5 1292.3L901.0 1292.2L900.5 1292.2L900.0 1292.1L899.5 1292.0L899.0 1291.9L898.5 1291.7L898.0 1291.6L897.5 1291.5L897.0 1291.4L896.5 1291.3L896.0 1291.2L895.5 1291.1L895.0 1291.0L894.5 1293.3L894.0 1293.2L893.5 1293.1L893.0 1293.0L892.5 1292.9L892.0 1292.8L891.5 1292.7L891.0 1292.6L890.5 1292.5L890.0 1292.4L889.5 1292.3L889.0 1292.4L888.5 1292.4L888.0 1292.4L887.5 1288.8L887.0 1288.9L886.5 1288.9L886.0 1288.9L885.5 1288.8L885.0 1288.7L884.5 1288.7L884.0 1288.6L883.5 1288.5L883.0 1288.4L882.5 1288.3L882.0 1288.2L881.5 1288.0L881.0 1287.9L880.5 1287.7L880.0 1287.5L879.5 1287.3L879.0 1287.1L878.5 1286.8L878.0 1286.6L877.5 1286.3L877.0 1286.0L876.5 1289.3L876.0 1288.9L875.5 1288.5L875.0 1288.1L874.5 1287.5ZM972.5 1273.9L973.0 1274.3L973.5 1274.6L974.0 1274.9L974.5 1277.5L975.0 1277.8L975.5 1278.1L976.0 1278.3L976.5 1278.5L977.0 1278.6L977.5 1278.7L978.0 1275.2L978.5 1275.3L979.0 1275.4L979.5 1275.4L980.0 1275.6L980.5 1275.8L981.0 1276.0L981.5 1279.7L982.0 1279.9L982.5 1280.0L983.0 1280.2L983.5 1280.4L984.0 1280.6L984.5 1280.7L985.0 1277.3L985.5 1277.5L986.0 1277.6L986.5 1277.8L987.0 1277.9L987.5 1278.0L988.0 1278.1L988.5 1278.2L989.0 1278.3L989.5 1278.4L990.0 1278.5L990.5 1278.5L991.0 1278.6L991.5 1278.6L992.0 1278.6L992.5 1281.0L993.0 1281.0L993.5 1281.0L994.0 1281.1L994.5 1281.2L995.0 1281.3L995.5 1281.3L996.0 1281.4L996.5 1281.5L997.0 1281.6L997.5 1281.7L998.0 1281.8L998.5 1281.8L999.0 1281.9L999.5 1283.1L1000.0 1283.2L1000.5 1283.3L1001.0 1283.3L1001.5 1283.3L1002.0 1283.3L1002.5 1283.4L1003.0 1282.2L1003.5 1282.2L1004.0 1282.2L1004.5 1282.2L1005.0 1282.2L1005.5 1282.2L1006.0 1282.2L1006.5 1282.1L1007.0 1279.7L1007.5 1279.7L1008.0 1279.7L1008.5 1279.7L1009.0 1279.7L1009.5 1279.8L1010.0 1279.8L1010.5 1281.1L1011.0 1281.2L1011.5 1281.2L1012.0 1281.3L1012.5 1281.4L1013.0 1281.5L1013.5 1281.6L1014.0 1282.9L1014.5 1283.0L1015.0 1283.1L1015.5 1283.2L1016.0 1283.2L1016.5 1283.3L1017.0 1283.4L1017.5 1284.7L1018.0 1284.8L1018.5 1284.9L1019.0 1284.9L1019.5 1285.0L1020.0 1285.1L1020.5 1285.2L1021.0 1278.8L1021.5 1278.9L1022.0 1279.0L1022.5 1279.0L1023.0 1279.1L1023.5 1279.3L1024.0 1279.4L1024.5 1279.5L1025.0 1281.1L1025.5 1281.2L1026.0 1281.3L1026.5 1281.4L1027.0 1281.5L1027.5 1281.5L1028.0 1281.5L1028.5 1283.0L1029.0 1283.0L1029.5 1283.0L1030.0 1283.1L1030.5 1283.1L1031.0 1283.1L1031.5 1283.1L1032.0 1283.1L1032.5 1283.1L1033.0 1283.1L1033.5 1283.1L1034.0 1283.1L1034.5 1283.0L1035.0 1282.9L1035.5 1286.4L1036.0 1286.4L1036.5 1286.3L1037.0 1286.2L1037.5 1286.1L1038.0 1286.1L1038.5 1286.1L1039.0 1282.4L1039.5 1282.4L1040.0 1282.3L1040.5 1282.2L1041.0 1282.2L1041.5 1282.2L1042.0 1282.1L1042.5 1282.1L1043.0 1283.3L1043.5 1283.2L1044.0 1283.2L1044.5 1283.1L1045.0 1283.1L1045.5 1283.1L1046.0 1283.1L1046.5 1281.8L1047.0 1281.8L1047.5 1281.8L1048.0 1281.7L1048.5 1281.6L1049.0 1281.4L1049.5 1281.3L1050.0 1282.3L1050.5 1282.2L1051.0 1282.0L1051.5 1281.8L1052.0 1281.7L1052.5 1281.6L1053.0 1281.5L1053.5 1280.2L1054.0 1280.1L1054.5 1279.9L1055.0 1279.8L1055.5 1279.6L1056.0 1279.4L1056.5 1279.1L1057.0 1280.1L1057.5 1279.8L1058.0 1279.4L1058.5 1279.0L1059.0 1278.5L1059.5 1277.9L1060.0 1277.3L1060.5 1276.5L1061.0 1276.8L1061.0 1287.8L1060.5 1287.5L1060.0 1288.3L1059.5 1288.9L1059.0 1289.5L1058.5 1290.0L1058.0 1290.4L1057.5 1290.8L1057.0 1291.1L1056.5 1296.3L1056.0 1296.6L1055.5 1296.8L1055.0 1297.0L1054.5 1297.1L1054.0 1297.3L1053.5 1297.4L1053.0 1293.7L1052.5 1293.8L1052.0 1293.9L1051.5 1294.0L1051.0 1294.2L1050.5 1294.4L1050.0 1294.5L1049.5 1295.9L1049.0 1296.0L1048.5 1296.2L1048.0 1296.3L1047.5 1296.4L1047.0 1296.4L1046.5 1296.4L1046.0 1294.1L1045.5 1294.1L1045.0 1294.1L1044.5 1294.1L1044.0 1294.2L1043.5 1294.2L1043.0 1294.3L1042.5 1296.7L1042.0 1296.7L1041.5 1296.8L1041.0 1296.8L1040.5 1296.8L1040.0 1296.9L1039.5 1297.0L1039.0 1297.0L1038.5 1294.7L1038.0 1294.7L1037.5 1294.7L1037.0 1294.8L1036.5 1294.9L1036.0 1295.0L1035.5 1295.0L1035.0 1295.1L1034.5 1295.2L1034.0 1295.3L1033.5 1295.3L1033.0 1295.3L1032.5 1295.3L1032.0 1295.3L1031.5 1301.8L1031.0 1301.8L1030.5 1301.8L1030.0 1301.8L1029.5 1301.7L1029.0 1301.7L1028.5 1301.7L1028.0 1295.1L1027.5 1295.1L1027.0 1295.1L1026.5 1295.0L1026.0 1294.9L1025.5 1294.8L1025.0 1294.7L1024.5 1298.2L1024.0 1298.1L1023.5 1298.0L1023.0 1297.8L1022.5 1297.7L1022.0 1297.7L1021.5 1297.6L1021.0 1297.5L1020.5 1296.2L1020.0 1296.1L1019.5 1296.0L1019.0 1295.9L1018.5 1295.9L1018.0 1295.8L1017.5 1295.7L1017.0 1293.2L1016.5 1293.1L1016.0 1293.0L1015.5 1293.0L1015.0 1292.9L1014.5 1292.8L1014.0 1292.7L1013.5 1295.0L1013.0 1294.9L1012.5 1294.8L1012.0 1294.7L1011.5 1294.6L1011.0 1294.6L1010.5 1294.5L1010.0 1295.6L1009.5 1295.6L1009.0 1295.5L1008.5 1295.5L1008.0 1295.5L1007.5 1295.5L1007.0 1295.5L1006.5 1294.3L1006.0 1294.4L1005.5 1294.4L1005.0 1294.4L1004.5 1294.4L1004.0 1294.4L1003.5 1294.4L1003.0 1294.4L1002.5 1292.0L1002.0 1291.9L1001.5 1291.9L1001.0 1291.9L1000.5 1291.9L1000.0 1291.8L999.5 1291.7L999.0 1295.3L998.5 1295.2L998.0 1295.2L997.5 1295.1L997.0 1295.0L996.5 1294.9L996.0 1294.8L995.5 1292.3L995.0 1292.3L994.5 1292.2L994.0 1292.1L993.5 1292.0L993.0 1292.0L992.5 1292.0L992.0 1293.2L991.5 1293.2L991.0 1293.2L990.5 1293.1L990.0 1293.1L989.5 1293.0L989.0 1292.9L988.5 1291.6L988.0 1291.5L987.5 1291.4L987.0 1291.3L986.5 1291.2L986.0 1291.0L985.5 1290.9L985.0 1290.7L984.5 1294.3L984.0 1294.2L983.5 1294.0L983.0 1293.8L982.5 1293.6L982.0 1293.5L981.5 1293.3L981.0 1289.4L980.5 1289.2L980.0 1289.0L979.5 1288.8L979.0 1288.8L978.5 1288.7L978.0 1288.6L977.5 1292.3L977.0 1292.2L976.5 1292.1L976.0 1291.9L975.5 1291.7L975.0 1291.4L974.5 1291.1L974.0 1290.9L973.5 1290.6L973.0 1290.3L972.5 1289.9ZM1082.0 1279.0L1082.5 1279.5L1083.0 1280.0L1083.5 1280.4L1084.0 1280.7L1084.5 1281.2L1085.0 1281.6L1085.5 1281.9L1086.0 1279.9L1086.5 1280.2L1087.0 1280.5L1087.5 1280.7L1088.0 1281.0L1088.5 1281.2L1089.0 1281.4L1089.5 1282.8L1090.0 1283.0L1090.5 1283.1L1091.0 1283.3L1091.5 1283.4L1092.0 1283.5L1092.5 1283.6L1093.0 1284.9L1093.5 1285.0L1094.0 1285.1L1094.5 1285.2L1095.0 1285.3L1095.5 1285.3L1096.0 1285.4L1096.5 1285.5L1097.0 1285.5L1097.5 1285.6L1098.0 1285.6L1098.5 1285.7L1099.0 1285.8L1099.5 1285.9L1100.0 1285.9L1100.5 1283.6L1101.0 1283.7L1101.5 1283.8L1102.0 1283.9L1102.5 1283.9L1103.0 1284.0L1103.5 1284.0L1104.0 1285.3L1104.5 1285.3L1105.0 1285.3L1105.5 1285.4L1106.0 1285.4L1106.5 1285.3L1107.0 1285.3L1107.5 1285.3L1108.0 1285.2L1108.5 1285.2L1109.0 1285.2L1109.5 1285.1L1110.0 1285.0L1110.5 1285.0L1111.0 1282.5L1111.5 1282.4L1112.0 1282.3L1112.5 1282.2L1113.0 1282.2L1113.5 1282.1L1114.0 1282.1L1114.5 1282.0L1115.0 1280.6L1115.5 1280.5L1116.0 1280.5L1116.5 1280.4L1117.0 1280.4L1117.5 1280.4L1118.0 1280.3L1118.5 1285.3L1119.0 1285.2L1119.5 1285.1L1120.0 1285.0L1120.5 1284.7L1121.0 1284.3L1121.5 1283.9L1122.0 1279.9L1122.5 1279.4L1123.0 1278.9L1123.5 1278.2L1124.0 1277.6L1124.5 1276.9L1125.0 1276.1L1125.0 1288.3L1124.5 1289.1L1124.0 1289.8L1123.5 1290.4L1123.0 1291.1L1122.5 1291.6L1122.0 1292.1L1121.5 1296.1L1121.0 1296.5L1120.5 1296.9L1120.0 1297.2L1119.5 1297.3L1119.0 1297.4L1118.5 1297.5L1118.0 1296.3L1117.5 1296.4L1117.0 1296.4L1116.5 1296.4L1116.0 1296.5L1115.5 1296.5L1115.0 1296.6L1114.5 1294.2L1114.0 1294.3L1113.5 1294.3L1113.0 1294.4L1112.5 1294.4L1112.0 1294.5L1111.5 1294.6L1111.0 1294.7L1110.5 1294.8L1110.0 1294.8L1109.5 1294.9L1109.0 1295.0L1108.5 1295.0L1108.0 1295.0L1107.5 1295.1L1107.0 1296.3L1106.5 1296.3L1106.0 1296.4L1105.5 1296.4L1105.0 1296.3L1104.5 1296.3L1104.0 1296.3L1103.5 1297.4L1103.0 1297.4L1102.5 1297.3L1102.0 1297.3L1101.5 1297.2L1101.0 1297.1L1100.5 1297.0L1100.0 1294.5L1099.5 1294.5L1099.0 1294.4L1098.5 1294.3L1098.0 1294.2L1097.5 1294.2L1097.0 1294.1L1096.5 1294.1L1096.0 1294.0L1095.5 1293.9L1095.0 1293.9L1094.5 1293.8L1094.0 1293.7L1093.5 1293.6L1093.0 1293.5L1092.5 1293.4L1092.0 1293.3L1091.5 1293.2L1091.0 1293.1L1090.5 1292.9L1090.0 1292.8L1089.5 1292.6L1089.0 1293.6L1088.5 1293.4L1088.0 1293.2L1087.5 1292.9L1087.0 1292.7L1086.5 1292.4L1086.0 1292.1L1085.5 1292.9L1085.0 1292.6L1084.5 1292.2L1084.0 1291.7L1083.5 1291.4L1083.0 1291.0L1082.5 1290.5L1082.0 1288.8ZM1140.0 1275.8L1140.5 1276.8L1141.0 1277.6L1141.5 1278.4L1142.0 1279.0L1142.5 1279.5L1143.0 1279.9L1143.5 1280.3L1144.0 1280.7L1144.5 1281.0L1145.0 1281.2L1145.5 1281.5L1146.0 1281.6L1146.5 1281.8L1147.0 1285.8L1147.5 1285.9L1148.0 1286.0L1148.5 1286.2L1149.0 1286.3L1149.5 1286.3L1150.0 1286.4L1150.5 1286.4L1151.0 1287.7L1151.5 1287.7L1152.0 1287.7L1152.5 1287.8L1153.0 1287.9L1153.5 1288.0L1154.0 1288.0L1154.5 1283.1L1155.0 1283.2L1155.5 1283.3L1156.0 1283.3L1156.5 1283.4L1157.0 1283.5L1157.5 1283.5L1158.0 1287.4L1158.5 1287.4L1159.0 1287.5L1159.5 1287.6L1160.0 1287.6L1160.5 1287.7L1161.0 1287.8L1161.5 1284.1L1162.0 1284.2L1162.5 1284.3L1163.0 1284.4L1163.5 1284.4L1164.0 1284.4L1164.5 1284.4L1165.0 1289.3L1165.5 1289.3L1166.0 1289.3L1166.5 1289.3L1167.0 1289.3L1167.5 1289.3L1168.0 1289.3L1168.5 1289.3L1169.0 1288.1L1169.5 1288.1L1170.0 1288.1L1170.5 1288.1L1171.0 1288.2L1171.5 1288.2L1172.0 1288.3L1172.5 1289.6L1173.0 1289.6L1173.5 1289.7L1174.0 1289.8L1174.5 1289.8L1175.0 1289.8L1175.5 1289.8L1176.0 1289.8L1176.5 1289.8L1177.0 1289.8L1177.5 1289.8L1178.0 1289.8L1178.5 1289.8L1179.0 1289.8L1179.5 1288.6L1180.0 1288.6L1180.5 1288.6L1181.0 1288.5L1181.5 1288.6L1182.0 1288.6L1182.5 1288.6L1183.0 1284.9L1183.5 1284.9L1184.0 1284.9L1184.5 1285.0L1185.0 1285.0L1185.5 1285.0L1186.0 1285.0L1186.5 1285.0L1187.0 1288.9L1187.5 1288.9L1188.0 1288.9L1188.5 1288.9L1189.0 1288.8L1189.5 1288.8L1190.0 1288.7L1190.5 1289.8L1191.0 1289.8L1191.5 1289.7L1192.0 1289.6L1192.5 1289.6L1193.0 1289.6L1193.5 1289.5L1194.0 1287.1L1194.5 1287.1L1195.0 1287.0L1195.5 1287.0L1196.0 1287.0L1196.5 1286.9L1197.0 1286.9L1197.5 1285.7L1198.0 1285.7L1198.5 1285.7L1199.0 1285.6L1199.5 1285.7L1200.0 1285.8L1200.5 1285.9L1201.0 1287.2L1201.5 1287.3L1202.0 1287.3L1202.5 1287.4L1203.0 1287.5L1203.5 1287.5L1204.0 1287.5L1204.5 1287.5L1205.0 1289.8L1205.5 1289.8L1206.0 1289.8L1206.5 1289.8L1207.0 1289.8L1207.5 1289.8L1208.0 1289.9L1208.5 1287.5L1209.0 1287.5L1209.5 1287.5L1210.0 1287.5L1210.5 1287.6L1211.0 1287.6L1211.5 1287.7L1212.0 1287.7L1212.5 1287.8L1213.0 1287.8L1213.5 1287.9L1214.0 1287.9L1214.5 1287.9L1215.0 1288.0L1215.5 1289.2L1216.0 1289.2L1216.5 1289.2L1217.0 1289.3L1217.5 1289.2L1218.0 1289.1L1218.5 1289.0L1219.0 1287.8L1219.5 1287.7L1220.0 1287.6L1220.5 1287.5L1221.0 1287.4L1221.5 1287.5L1222.0 1287.5L1222.5 1287.5L1223.0 1289.9L1223.5 1289.9L1224.0 1290.0L1224.5 1290.0L1225.0 1290.0L1225.5 1290.0L1226.0 1290.0L1226.5 1290.0L1227.0 1290.0L1227.5 1290.0L1228.0 1290.0L1228.5 1290.0L1229.0 1290.0L1229.5 1290.0L1230.0 1288.8L1230.5 1288.8L1231.0 1288.8L1231.5 1288.8L1232.0 1288.8L1232.5 1288.8L1233.0 1288.7L1233.5 1286.3L1234.0 1286.2L1234.5 1286.2L1235.0 1286.1L1235.5 1286.1L1236.0 1286.2L1236.5 1286.2L1237.0 1287.4L1237.5 1287.4L1238.0 1287.4L1238.5 1287.5L1239.0 1287.5L1239.5 1287.6L1240.0 1287.7L1240.5 1287.7L1241.0 1287.8L1241.5 1287.9L1242.0 1288.0L1242.5 1288.0L1243.0 1288.0L1243.5 1288.0L1244.0 1288.0L1244.5 1286.8L1245.0 1286.8L1245.5 1286.8L1246.0 1286.8L1246.5 1286.8L1247.0 1286.8L1247.5 1286.8L1248.0 1287.9L1248.5 1287.9L1249.0 1287.9L1249.5 1287.8L1250.0 1287.8L1250.5 1287.7L1251.0 1287.7L1251.5 1290.0L1252.0 1290.0L1252.5 1289.9L1253.0 1289.9L1253.5 1289.8L1254.0 1289.8L1254.5 1289.7L1255.0 1286.1L1255.5 1286.0L1256.0 1285.9L1256.5 1285.8L1257.0 1285.8L1257.5 1285.7L1258.0 1285.7L1258.5 1285.6L1259.0 1286.7L1259.5 1286.6L1260.0 1286.5L1260.5 1286.5L1261.0 1286.5L1261.5 1286.4L1262.0 1286.4L1262.5 1288.8L1263.0 1288.7L1263.5 1288.6L1264.0 1288.5L1264.5 1288.3L1265.0 1288.1L1265.5 1287.8L1266.0 1286.3L1266.5 1286.0L1267.0 1285.6L1267.5 1285.2L1268.0 1284.8L1268.5 1284.3L1269.0 1283.8L1269.5 1283.2L1270.0 1282.4L1270.0 1292.2L1269.5 1293.0L1269.0 1293.6L1268.5 1294.1L1268.0 1294.6L1267.5 1295.0L1267.0 1295.4L1266.5 1295.8L1266.0 1296.1L1265.5 1298.8L1265.0 1299.1L1264.5 1299.3L1264.0 1299.5L1263.5 1299.6L1263.0 1299.7L1262.5 1299.8L1262.0 1298.6L1261.5 1298.6L1261.0 1298.7L1260.5 1298.7L1260.0 1298.7L1259.5 1298.8L1259.0 1298.9L1258.5 1299.0L1258.0 1299.1L1257.5 1299.1L1257.0 1299.2L1256.5 1299.2L1256.0 1299.3L1255.5 1299.4L1255.0 1299.5L1254.5 1299.5L1254.0 1299.6L1253.5 1299.6L1253.0 1299.7L1252.5 1299.7L1252.0 1299.8L1251.5 1299.8L1251.0 1301.1L1250.5 1301.1L1250.0 1301.2L1249.5 1301.2L1249.0 1301.3L1248.5 1301.3L1248.0 1301.3L1247.5 1302.6L1247.0 1302.6L1246.5 1302.6L1246.0 1302.6L1245.5 1302.6L1245.0 1302.6L1244.5 1302.6L1244.0 1299.0L1243.5 1299.0L1243.0 1299.0L1242.5 1299.0L1242.0 1299.0L1241.5 1298.9L1241.0 1298.8L1240.5 1301.1L1240.0 1301.1L1239.5 1301.0L1239.0 1300.9L1238.5 1300.9L1238.0 1300.8L1237.5 1300.8L1237.0 1300.8L1236.5 1303.4L1236.0 1303.4L1235.5 1303.3L1235.0 1303.3L1234.5 1303.4L1234.0 1303.4L1233.5 1303.5L1233.0 1298.5L1232.5 1298.6L1232.0 1298.6L1231.5 1298.6L1231.0 1298.6L1230.5 1298.6L1230.0 1298.6L1229.5 1299.8L1229.0 1299.8L1228.5 1299.8L1228.0 1299.8L1227.5 1299.8L1227.0 1299.8L1226.5 1299.8L1226.0 1298.6L1225.5 1298.6L1225.0 1298.6L1224.5 1298.6L1224.0 1298.6L1223.5 1298.5L1223.0 1298.5L1222.5 1303.5L1222.0 1303.5L1221.5 1303.5L1221.0 1303.4L1220.5 1303.5L1220.0 1303.6L1219.5 1303.7L1219.0 1303.8L1218.5 1298.8L1218.0 1298.9L1217.5 1299.0L1217.0 1299.1L1216.5 1299.0L1216.0 1299.0L1215.5 1299.0L1215.0 1305.5L1214.5 1305.4L1214.0 1305.4L1213.5 1305.4L1213.0 1305.3L1212.5 1305.3L1212.0 1305.2L1211.5 1301.1L1211.0 1301.0L1210.5 1301.0L1210.0 1300.9L1209.5 1300.9L1209.0 1300.9L1208.5 1300.9L1208.0 1299.7L1207.5 1299.6L1207.0 1299.6L1206.5 1299.6L1206.0 1299.6L1205.5 1299.6L1205.0 1299.6L1204.5 1299.7L1204.0 1299.7L1203.5 1299.7L1203.0 1299.7L1202.5 1299.6L1202.0 1299.5L1201.5 1299.5L1201.0 1299.4L1200.5 1299.3L1200.0 1299.2L1199.5 1299.1L1199.0 1299.0L1198.5 1299.1L1198.0 1299.1L1197.5 1299.1L1197.0 1300.3L1196.5 1300.3L1196.0 1300.4L1195.5 1300.4L1195.0 1300.4L1194.5 1300.5L1194.0 1300.5L1193.5 1299.3L1193.0 1299.4L1192.5 1299.4L1192.0 1299.4L1191.5 1299.5L1191.0 1299.6L1190.5 1299.6L1190.0 1300.9L1189.5 1301.0L1189.0 1301.0L1188.5 1301.1L1188.0 1301.1L1187.5 1301.1L1187.0 1301.1L1186.5 1299.8L1186.0 1299.8L1185.5 1299.8L1185.0 1299.8L1184.5 1299.8L1184.0 1299.7L1183.5 1299.7L1183.0 1299.7L1182.5 1298.4L1182.0 1298.4L1181.5 1298.4L1181.0 1298.3L1180.5 1298.4L1180.0 1298.4L1179.5 1298.4L1179.0 1300.8L1178.5 1300.8L1178.0 1300.8L1177.5 1300.8L1177.0 1300.8L1176.5 1300.8L1176.0 1300.8L1175.5 1299.6L1175.0 1299.6L1174.5 1299.6L1174.0 1299.6L1173.5 1299.5L1173.0 1299.4L1172.5 1299.4L1172.0 1300.5L1171.5 1300.4L1171.0 1300.4L1170.5 1300.3L1170.0 1300.3L1169.5 1300.3L1169.0 1300.3L1168.5 1301.5L1168.0 1301.5L1167.5 1301.5L1167.0 1301.5L1166.5 1301.5L1166.0 1301.5L1165.5 1301.5L1165.0 1301.5L1164.5 1298.0L1164.0 1298.0L1163.5 1298.0L1163.0 1298.0L1162.5 1297.9L1162.0 1297.8L1161.5 1297.7L1161.0 1297.6L1160.5 1297.5L1160.0 1297.4L1159.5 1297.4L1159.0 1297.3L1158.5 1297.2L1158.0 1297.2L1157.5 1300.7L1157.0 1300.7L1156.5 1300.6L1156.0 1300.5L1155.5 1300.5L1155.0 1300.4L1154.5 1300.3L1154.0 1301.6L1153.5 1301.6L1153.0 1301.5L1152.5 1301.4L1152.0 1301.3L1151.5 1301.3L1151.0 1301.3L1150.5 1297.4L1150.0 1297.4L1149.5 1297.3L1149.0 1297.3L1148.5 1297.2L1148.0 1297.0L1147.5 1296.9L1147.0 1296.8L1146.5 1297.8L1146.0 1297.6L1145.5 1297.5L1145.0 1297.2L1144.5 1297.0L1144.0 1296.7L1143.5 1296.3L1143.0 1294.7L1142.5 1294.3L1142.0 1293.8L1141.5 1293.2L1141.0 1292.4L1140.5 1291.6L1140.0 1290.6ZM1284.5 1281.4L1285.0 1282.4L1285.5 1283.2L1286.0 1284.0L1286.5 1284.6L1287.0 1285.2L1287.5 1284.5L1288.0 1284.9L1288.5 1285.3L1289.0 1285.7L1289.5 1285.9L1290.0 1286.1L1290.5 1286.2L1291.0 1284.9L1291.5 1285.0L1292.0 1285.0L1292.5 1285.1L1293.0 1285.2L1293.5 1285.3L1294.0 1285.4L1294.5 1285.4L1295.0 1289.3L1295.5 1289.4L1296.0 1289.5L1296.5 1289.5L1297.0 1289.7L1297.5 1289.8L1298.0 1289.9L1298.5 1290.0L1299.0 1290.1L1299.5 1290.3L1300.0 1290.4L1300.5 1290.3L1301.0 1290.3L1301.5 1290.3L1302.0 1291.5L1302.5 1291.4L1303.0 1291.4L1303.5 1291.4L1304.0 1291.4L1304.5 1291.4L1305.0 1291.4L1305.5 1291.4L1306.0 1291.4L1306.5 1291.4L1307.0 1291.4L1307.5 1291.4L1308.0 1291.5L1308.5 1291.6L1309.0 1289.3L1309.5 1289.4L1310.0 1289.5L1310.5 1289.6L1311.0 1289.7L1311.5 1289.8L1312.0 1289.9L1312.5 1289.9L1313.0 1292.4L1313.5 1292.5L1314.0 1292.5L1314.5 1292.6L1315.0 1292.6L1315.5 1292.6L1316.0 1292.6L1316.5 1291.4L1317.0 1291.4L1317.5 1291.4L1318.0 1291.4L1318.5 1291.4L1319.0 1291.4L1319.5 1291.4L1320.0 1292.6L1320.5 1292.7L1321.0 1292.7L1321.5 1292.7L1322.0 1292.6L1322.5 1292.5L1323.0 1292.4L1323.5 1289.8L1324.0 1289.7L1324.5 1289.5L1325.0 1289.3L1325.5 1289.1L1326.0 1288.9L1326.5 1288.5L1327.0 1290.3L1327.5 1289.5L1328.0 1288.5L1328.5 1287.1L1329.0 1285.6L1329.5 1284.0L1329.5 1293.8L1329.0 1295.4L1328.5 1296.9L1328.0 1298.3L1327.5 1299.3L1327.0 1300.1L1326.5 1301.9L1326.0 1302.3L1325.5 1302.5L1325.0 1302.7L1324.5 1302.9L1324.0 1303.1L1323.5 1303.2L1323.0 1301.0L1322.5 1301.1L1322.0 1301.2L1321.5 1301.3L1321.0 1301.3L1320.5 1301.3L1320.0 1301.2L1319.5 1302.4L1319.0 1302.4L1318.5 1302.4L1318.0 1302.4L1317.5 1302.4L1317.0 1302.4L1316.5 1302.4L1316.0 1301.2L1315.5 1301.2L1315.0 1301.2L1314.5 1301.2L1314.0 1301.1L1313.5 1301.1L1313.0 1301.0L1312.5 1300.9L1312.0 1300.9L1311.5 1300.8L1311.0 1300.7L1310.5 1300.6L1310.0 1300.5L1309.5 1300.4L1309.0 1300.3L1308.5 1300.2L1308.0 1300.1L1307.5 1300.0L1307.0 1300.0L1306.5 1300.0L1306.0 1300.0L1305.5 1300.0L1305.0 1300.0L1304.5 1300.0L1304.0 1300.0L1303.5 1300.0L1303.0 1300.0L1302.5 1300.0L1302.0 1300.1L1301.5 1303.7L1301.0 1303.7L1300.5 1303.7L1300.0 1303.8L1299.5 1303.7L1299.0 1303.5L1298.5 1303.4L1298.0 1302.1L1297.5 1302.0L1297.0 1301.9L1296.5 1301.7L1296.0 1301.7L1295.5 1301.6L1295.0 1301.5L1294.5 1300.2L1294.0 1300.2L1293.5 1300.1L1293.0 1300.0L1292.5 1299.9L1292.0 1299.8L1291.5 1299.8L1291.0 1299.7L1290.5 1298.4L1290.0 1298.3L1289.5 1298.1L1289.0 1297.9L1288.5 1297.5L1288.0 1297.1L1287.5 1296.7L1287.0 1296.2L1286.5 1295.6L1286.0 1295.0L1285.5 1294.2L1285.0 1293.4L1284.5 1292.4ZM1334.0 1283.3L1334.5 1286.0L1335.0 1287.3L1335.5 1288.2L1336.0 1288.8L1336.5 1289.0L1337.0 1288.9L1337.5 1288.4L1338.0 1286.1L1338.5 1284.5L1339.0 1282.2L1339.0 1296.8L1338.5 1299.1L1338.0 1300.7L1337.5 1303.2L1337.0 1303.7L1336.5 1303.8L1336.0 1303.6L1335.5 1303.0L1335.0 1302.1L1334.5 1300.8L1334.0 1296.7ZM1344.5 1286.1L1345.0 1283.4L1345.5 1285.1L1346.0 1286.3L1346.5 1287.1L1347.0 1287.5L1347.5 1287.7L1348.0 1287.8L1348.5 1287.9L1349.0 1291.7L1349.5 1291.7L1350.0 1291.7L1350.5 1291.7L1351.0 1291.7L1351.5 1291.6L1352.0 1291.6L1352.5 1291.6L1353.0 1291.6L1353.5 1291.6L1354.0 1291.5L1354.5 1291.5L1355.0 1291.6L1355.5 1291.6L1356.0 1291.6L1356.5 1291.6L1357.0 1291.6L1357.5 1291.6L1358.0 1291.6L1358.5 1291.6L1359.0 1291.7L1359.5 1292.9L1360.0 1292.9L1360.5 1293.0L1361.0 1293.0L1361.5 1292.9L1362.0 1292.9L1362.5 1292.8L1363.0 1290.3L1363.5 1290.3L1364.0 1290.2L1364.5 1290.1L1365.0 1290.0L1365.5 1290.0L1366.0 1290.0L1366.5 1289.9L1367.0 1292.3L1367.5 1292.3L1368.0 1292.2L1368.5 1292.2L1369.0 1292.1L1369.5 1292.1L1370.0 1292.0L1370.5 1291.9L1371.0 1291.9L1371.5 1291.8L1372.0 1291.7L1372.5 1291.6L1373.0 1291.5L1373.5 1291.4L1374.0 1286.3L1374.5 1286.1L1375.0 1286.0L1375.5 1285.8L1376.0 1285.6L1376.5 1285.3L1377.0 1285.0L1377.5 1289.7L1378.0 1289.3L1378.5 1288.9L1379.0 1288.5L1379.5 1288.0L1380.0 1287.6L1380.5 1287.1L1381.0 1282.9L1381.5 1282.1L1382.0 1281.2L1382.5 1280.2L1382.5 1292.4L1382.0 1293.4L1381.5 1294.3L1381.0 1295.1L1380.5 1295.7L1380.0 1296.2L1379.5 1296.6L1379.0 1297.1L1378.5 1297.5L1378.0 1297.9L1377.5 1298.3L1377.0 1298.6L1376.5 1298.9L1376.0 1299.2L1375.5 1299.4L1375.0 1299.6L1374.5 1299.7L1374.0 1299.9L1373.5 1300.0L1373.0 1300.1L1372.5 1300.2L1372.0 1300.3L1371.5 1300.4L1371.0 1300.5L1370.5 1300.5L1370.0 1303.0L1369.5 1303.1L1369.0 1303.1L1368.5 1303.2L1368.0 1303.2L1367.5 1303.3L1367.0 1303.3L1366.5 1302.1L1366.0 1302.2L1365.5 1302.2L1365.0 1302.2L1364.5 1302.3L1364.0 1302.4L1363.5 1302.5L1363.0 1302.5L1362.5 1303.8L1362.0 1303.9L1361.5 1303.9L1361.0 1304.0L1360.5 1304.0L1360.0 1303.9L1359.5 1303.9L1359.0 1305.1L1358.5 1305.0L1358.0 1305.0L1357.5 1305.0L1357.0 1305.0L1356.5 1305.0L1356.0 1305.0L1355.5 1305.0L1355.0 1305.0L1354.5 1304.9L1354.0 1304.9L1353.5 1305.0L1353.0 1305.0L1352.5 1305.0L1352.0 1302.6L1351.5 1302.6L1351.0 1302.7L1350.5 1302.7L1350.0 1302.7L1349.5 1302.7L1349.0 1302.7L1348.5 1301.5L1348.0 1301.4L1347.5 1301.3L1347.0 1301.1L1346.5 1300.7L1346.0 1299.9L1345.5 1298.7L1345.0 1297.0L1344.5 1294.7ZM1395.5 1288.1L1396.0 1289.0L1396.5 1289.7L1397.0 1290.3L1397.5 1290.7L1398.0 1291.1L1398.5 1291.4L1399.0 1291.7L1399.5 1292.0L1400.0 1292.2L1400.5 1292.3L1401.0 1292.5L1401.5 1292.7L1402.0 1292.8L1402.5 1292.9L1403.0 1291.8L1403.5 1292.0L1404.0 1292.1L1404.5 1292.1L1405.0 1292.3L1405.5 1292.4L1406.0 1292.5L1406.5 1293.8L1407.0 1293.9L1407.5 1294.0L1408.0 1294.1L1408.5 1294.1L1409.0 1294.1L1409.5 1294.0L1410.0 1294.0L1410.5 1294.0L1411.0 1294.0L1411.5 1293.9L1412.0 1294.0L1412.5 1294.0L1413.0 1294.1L1413.5 1291.8L1414.0 1291.9L1414.5 1291.9L1415.0 1292.0L1415.5 1292.0L1416.0 1292.0L1416.5 1292.0L1417.0 1292.1L1417.5 1292.1L1418.0 1292.1L1418.5 1292.1L1419.0 1292.1L1419.5 1292.1L1420.0 1292.0L1420.5 1292.0L1421.0 1292.0L1421.5 1292.0L1422.0 1292.0L1422.5 1291.9L1423.0 1291.9L1423.5 1291.8L1424.0 1291.8L1424.5 1292.9L1425.0 1292.9L1425.5 1292.8L1426.0 1292.8L1426.5 1292.7L1427.0 1292.7L1427.5 1292.6L1428.0 1291.4L1428.5 1291.3L1429.0 1291.3L1429.5 1291.2L1430.0 1291.2L1430.5 1291.2L1431.0 1291.1L1431.5 1292.3L1432.0 1292.3L1432.5 1292.2L1433.0 1292.2L1433.5 1292.2L1434.0 1292.2L1434.5 1292.1L1435.0 1293.3L1435.5 1293.3L1436.0 1293.3L1436.5 1293.3L1437.0 1293.3L1437.5 1293.2L1438.0 1293.2L1438.5 1293.1L1439.0 1289.4L1439.5 1289.4L1440.0 1289.3L1440.5 1289.3L1441.0 1289.3L1441.5 1289.2L1442.0 1289.2L1442.5 1291.6L1443.0 1291.5L1443.5 1291.5L1444.0 1291.5L1444.5 1291.5L1445.0 1291.6L1445.5 1291.7L1446.0 1293.0L1446.5 1293.1L1447.0 1293.2L1447.5 1293.3L1448.0 1293.3L1448.5 1293.2L1449.0 1293.1L1449.5 1288.0L1450.0 1287.9L1450.5 1287.8L1451.0 1287.7L1451.5 1287.7L1452.0 1287.8L1452.5 1287.8L1453.0 1292.8L1453.5 1292.9L1454.0 1292.9L1454.5 1293.0L1455.0 1293.0L1455.5 1292.9L1456.0 1292.9L1456.5 1292.8L1457.0 1290.4L1457.5 1290.4L1458.0 1290.3L1458.5 1290.3L1459.0 1290.3L1459.5 1290.3L1460.0 1290.3L1460.5 1292.7L1461.0 1292.7L1461.5 1292.7L1462.0 1292.7L1462.5 1292.7L1463.0 1292.7L1463.5 1292.6L1464.0 1289.0L1464.5 1289.0L1465.0 1289.0L1465.5 1288.9L1466.0 1289.0L1466.5 1289.1L1467.0 1289.2L1467.5 1290.5L1468.0 1290.6L1468.5 1290.7L1469.0 1290.8L1469.5 1290.8L1470.0 1290.7L1470.5 1290.6L1471.0 1288.0L1471.5 1287.9L1472.0 1287.9L1472.5 1287.8L1473.0 1287.8L1473.5 1287.9L1474.0 1287.9L1474.5 1288.0L1475.0 1291.9L1475.5 1291.9L1476.0 1292.0L1476.5 1292.0L1477.0 1292.0L1477.5 1291.9L1478.0 1291.9L1478.5 1289.5L1479.0 1289.4L1479.5 1289.4L1480.0 1289.4L1480.5 1289.3L1481.0 1289.3L1481.5 1289.3L1482.0 1291.6L1482.5 1291.6L1483.0 1291.6L1483.5 1291.5L1484.0 1291.5L1484.5 1291.4L1485.0 1291.3L1485.5 1288.9L1486.0 1288.8L1486.5 1288.7L1487.0 1288.6L1487.5 1288.6L1488.0 1288.5L1488.5 1288.4L1489.0 1290.7L1489.5 1290.7L1490.0 1290.6L1490.5 1290.5L1491.0 1290.4L1491.5 1290.3L1492.0 1290.3L1492.5 1290.2L1493.0 1287.7L1493.5 1287.7L1494.0 1287.6L1494.5 1287.5L1495.0 1287.5L1495.5 1287.4L1496.0 1287.4L1496.5 1288.6L1497.0 1288.5L1497.5 1288.5L1498.0 1288.5L1498.5 1288.4L1499.0 1288.4L1499.5 1288.4L1500.0 1287.1L1500.5 1287.1L1501.0 1287.1L1501.5 1287.1L1502.0 1287.1L1502.5 1287.1L1503.0 1287.1L1503.5 1290.7L1504.0 1290.6L1504.5 1290.6L1505.0 1290.6L1505.5 1290.6L1506.0 1290.6L1506.5 1290.5L1507.0 1290.5L1507.5 1290.5L1508.0 1290.4L1508.5 1290.4L1509.0 1290.3L1509.5 1290.3L1510.0 1290.2L1510.5 1290.1L1511.0 1286.5L1511.5 1286.4L1512.0 1286.3L1512.5 1286.3L1513.0 1286.3L1513.5 1286.3L1514.0 1286.3L1514.5 1289.9L1515.0 1289.9L1515.5 1289.9L1516.0 1289.9L1516.5 1289.8L1517.0 1289.8L1517.5 1289.7L1518.0 1288.4L1518.5 1288.3L1519.0 1288.3L1519.5 1288.2L1520.0 1288.1L1520.5 1288.0L1521.0 1287.9L1521.5 1287.8L1522.0 1287.7L1522.5 1287.6L1523.0 1287.5L1523.5 1287.4L1524.0 1287.4L1524.5 1287.3L1525.0 1288.4L1525.5 1288.4L1526.0 1288.3L1526.5 1288.2L1527.0 1288.1L1527.5 1288.1L1528.0 1288.0L1528.5 1287.8L1529.0 1287.7L1529.5 1287.6L1530.0 1287.4L1530.5 1287.2L1531.0 1286.8L1531.5 1286.5L1532.0 1286.1L1532.5 1284.5L1533.0 1283.9L1533.5 1283.4L1534.0 1282.7L1534.5 1281.9L1535.0 1281.0L1535.0 1294.4L1534.5 1295.3L1534.0 1296.1L1533.5 1296.8L1533.0 1297.3L1532.5 1297.9L1532.0 1294.7L1531.5 1295.1L1531.0 1295.4L1530.5 1295.8L1530.0 1296.0L1529.5 1296.2L1529.0 1296.3L1528.5 1300.0L1528.0 1300.2L1527.5 1300.3L1527.0 1300.3L1526.5 1300.4L1526.0 1300.5L1525.5 1300.6L1525.0 1300.6L1524.5 1297.1L1524.0 1297.2L1523.5 1297.2L1523.0 1297.3L1522.5 1297.4L1522.0 1297.5L1521.5 1297.6L1521.0 1297.7L1520.5 1297.8L1520.0 1297.9L1519.5 1298.0L1519.0 1298.1L1518.5 1298.1L1518.0 1298.2L1517.5 1299.5L1517.0 1299.6L1516.5 1299.6L1516.0 1299.7L1515.5 1299.7L1515.0 1299.7L1514.5 1299.7L1514.0 1302.1L1513.5 1302.1L1513.0 1302.1L1512.5 1302.1L1512.0 1302.1L1511.5 1302.2L1511.0 1302.3L1510.5 1301.1L1510.0 1301.2L1509.5 1301.3L1509.0 1301.3L1508.5 1301.4L1508.0 1301.4L1507.5 1301.5L1507.0 1301.5L1506.5 1300.3L1506.0 1300.4L1505.5 1300.4L1505.0 1300.4L1504.5 1300.4L1504.0 1300.4L1503.5 1300.5L1503.0 1299.3L1502.5 1299.3L1502.0 1299.3L1501.5 1299.3L1501.0 1299.3L1500.5 1299.3L1500.0 1299.3L1499.5 1299.4L1499.0 1299.4L1498.5 1299.4L1498.0 1299.5L1497.5 1299.5L1497.0 1299.5L1496.5 1299.6L1496.0 1300.8L1495.5 1300.8L1495.0 1300.9L1494.5 1300.9L1494.0 1301.0L1493.5 1301.1L1493.0 1301.1L1492.5 1302.4L1492.0 1302.5L1491.5 1302.5L1491.0 1302.6L1490.5 1302.7L1490.0 1302.8L1489.5 1302.9L1489.0 1302.9L1488.5 1304.2L1488.0 1304.3L1487.5 1304.4L1487.0 1304.4L1486.5 1304.5L1486.0 1304.6L1485.5 1304.7L1485.0 1301.1L1484.5 1301.2L1484.0 1301.3L1483.5 1301.3L1483.0 1301.4L1482.5 1301.4L1482.0 1301.4L1481.5 1302.7L1481.0 1302.7L1480.5 1302.7L1480.0 1302.8L1479.5 1302.8L1479.0 1302.8L1478.5 1302.9L1478.0 1302.9L1477.5 1302.9L1477.0 1303.0L1476.5 1303.0L1476.0 1303.0L1475.5 1302.9L1475.0 1302.9L1474.5 1305.2L1474.0 1305.1L1473.5 1305.1L1473.0 1305.0L1472.5 1305.0L1472.0 1305.1L1471.5 1305.1L1471.0 1305.2L1470.5 1301.6L1470.0 1301.7L1469.5 1301.8L1469.0 1301.8L1468.5 1301.7L1468.0 1301.6L1467.5 1301.5L1467.0 1306.4L1466.5 1306.3L1466.0 1306.2L1465.5 1306.1L1465.0 1306.2L1464.5 1306.2L1464.0 1306.2L1463.5 1303.6L1463.0 1303.7L1462.5 1303.7L1462.0 1303.7L1461.5 1303.7L1461.0 1303.7L1460.5 1303.7L1460.0 1303.7L1459.5 1303.7L1459.0 1303.7L1458.5 1303.7L1458.0 1303.7L1457.5 1303.8L1457.0 1303.8L1456.5 1303.8L1456.0 1303.9L1455.5 1303.9L1455.0 1304.0L1454.5 1304.0L1454.0 1303.9L1453.5 1303.9L1453.0 1303.8L1452.5 1303.8L1452.0 1303.8L1451.5 1303.7L1451.0 1303.7L1450.5 1303.8L1450.0 1303.9L1449.5 1304.0L1449.0 1301.7L1448.5 1301.8L1448.0 1301.9L1447.5 1301.9L1447.0 1301.8L1446.5 1301.7L1446.0 1301.6L1445.5 1301.5L1445.0 1301.4L1444.5 1301.3L1444.0 1301.3L1443.5 1301.3L1443.0 1301.3L1442.5 1301.4L1442.0 1305.0L1441.5 1305.0L1441.0 1305.1L1440.5 1305.1L1440.0 1305.1L1439.5 1305.2L1439.0 1305.2L1438.5 1301.7L1438.0 1301.8L1437.5 1301.8L1437.0 1301.9L1436.5 1301.9L1436.0 1301.9L1435.5 1301.9L1435.0 1301.9L1434.5 1301.9L1434.0 1302.0L1433.5 1302.0L1433.0 1302.0L1432.5 1302.0L1432.0 1302.1L1431.5 1302.1L1431.0 1302.1L1430.5 1302.2L1430.0 1302.2L1429.5 1302.2L1429.0 1302.3L1428.5 1302.3L1428.0 1302.4L1427.5 1307.4L1427.0 1307.5L1426.5 1307.5L1426.0 1307.6L1425.5 1307.6L1425.0 1307.7L1424.5 1307.7L1424.0 1302.8L1423.5 1302.8L1423.0 1302.9L1422.5 1302.9L1422.0 1303.0L1421.5 1303.0L1421.0 1303.0L1420.5 1308.0L1420.0 1308.0L1419.5 1308.1L1419.0 1308.1L1418.5 1308.1L1418.0 1308.1L1417.5 1308.1L1417.0 1308.1L1416.5 1305.4L1416.0 1305.4L1415.5 1305.4L1415.0 1305.4L1414.5 1305.3L1414.0 1305.3L1413.5 1305.2L1413.0 1303.9L1412.5 1303.8L1412.0 1303.8L1411.5 1303.7L1411.0 1303.8L1410.5 1303.8L1410.0 1303.8L1409.5 1305.0L1409.0 1305.1L1408.5 1305.1L1408.0 1305.1L1407.5 1305.0L1407.0 1304.9L1406.5 1304.8L1406.0 1302.3L1405.5 1302.2L1405.0 1302.1L1404.5 1301.9L1404.0 1301.9L1403.5 1301.8L1403.0 1301.6L1402.5 1303.9L1402.0 1303.8L1401.5 1303.7L1401.0 1303.5L1400.5 1303.3L1400.0 1303.2L1399.5 1303.0L1399.0 1302.7L1398.5 1303.6L1398.0 1303.3L1397.5 1302.9L1397.0 1302.5L1396.5 1301.9L1396.0 1301.2L1395.5 1300.3ZM1548.0 1282.3L1548.5 1283.3L1549.0 1284.1L1549.5 1284.8L1550.0 1285.3L1550.5 1285.8L1551.0 1286.1L1551.5 1286.4L1552.0 1286.7L1552.5 1286.9L1553.0 1287.1L1553.5 1287.3L1554.0 1286.2L1554.5 1286.3L1555.0 1286.3L1555.5 1286.4L1556.0 1286.4L1556.5 1286.3L1557.0 1286.2L1557.5 1280.8L1558.0 1280.7L1558.5 1280.5L1559.0 1280.3L1559.5 1280.1L1560.0 1279.9L1560.5 1279.6L1561.0 1282.2L1561.5 1281.9L1562.0 1281.4L1562.5 1280.8L1563.0 1280.1L1563.5 1279.3L1563.5 1293.9L1563.0 1294.7L1562.5 1295.4L1562.0 1296.0L1561.5 1296.5L1561.0 1296.8L1560.5 1299.7L1560.0 1300.0L1559.5 1300.2L1559.0 1300.4L1558.5 1300.6L1558.0 1300.8L1557.5 1300.9L1557.0 1298.4L1556.5 1298.5L1556.0 1298.6L1555.5 1298.6L1555.0 1298.5L1554.5 1298.5L1554.0 1298.4L1553.5 1295.9L1553.0 1295.7L1552.5 1295.5L1552.0 1295.3L1551.5 1295.0L1551.0 1294.7L1550.5 1294.4L1550.0 1293.9L1549.5 1293.4L1549.0 1292.7L1548.5 1291.9L1548.0 1290.9ZM1602.5 1282.5L1603.0 1283.0L1603.5 1283.5L1604.0 1283.8L1604.5 1285.4L1605.0 1285.7L1605.5 1285.9L1606.0 1286.1L1606.5 1286.3L1607.0 1286.5L1607.5 1286.6L1608.0 1286.7L1608.5 1286.9L1609.0 1286.9L1609.5 1287.0L1610.0 1287.2L1610.5 1287.4L1611.0 1287.5L1611.5 1285.3L1612.0 1285.4L1612.5 1285.6L1613.0 1285.7L1613.5 1285.8L1614.0 1285.8L1614.5 1285.8L1615.0 1284.7L1615.5 1284.7L1616.0 1284.7L1616.5 1284.7L1617.0 1284.7L1617.5 1284.8L1618.0 1284.8L1618.5 1284.8L1619.0 1286.0L1619.5 1286.0L1620.0 1286.1L1620.5 1286.1L1621.0 1286.2L1621.5 1286.2L1622.0 1286.3L1622.5 1288.8L1623.0 1288.9L1623.5 1288.9L1624.0 1289.0L1624.5 1289.0L1625.0 1289.0L1625.5 1289.0L1626.0 1287.8L1626.5 1287.8L1627.0 1287.8L1627.5 1287.8L1628.0 1287.8L1628.5 1287.8L1629.0 1287.8L1629.5 1289.0L1630.0 1289.0L1630.5 1289.0L1631.0 1289.0L1631.5 1289.0L1632.0 1289.0L1632.5 1289.0L1633.0 1284.0L1633.5 1284.0L1634.0 1284.0L1634.5 1284.0L1635.0 1284.1L1635.5 1284.1L1636.0 1284.2L1636.5 1284.3L1637.0 1289.3L1637.5 1289.4L1638.0 1289.5L1638.5 1289.5L1639.0 1289.5L1639.5 1289.5L1640.0 1289.4L1640.5 1289.4L1641.0 1289.4L1641.5 1289.4L1642.0 1289.3L1642.5 1289.4L1643.0 1289.5L1643.5 1289.6L1644.0 1287.3L1644.5 1287.4L1645.0 1287.5L1645.5 1287.5L1646.0 1287.5L1646.5 1287.4L1647.0 1287.3L1647.5 1287.1L1648.0 1287.0L1648.5 1286.8L1649.0 1286.6L1649.5 1286.3L1650.0 1286.0L1650.5 1285.4L1651.0 1285.8L1651.5 1284.7L1652.0 1283.2L1652.5 1281.5L1652.5 1294.9L1652.0 1296.6L1651.5 1298.1L1651.0 1299.2L1650.5 1298.8L1650.0 1299.4L1649.5 1299.7L1649.0 1300.0L1648.5 1300.2L1648.0 1300.4L1647.5 1300.5L1647.0 1299.5L1646.5 1299.6L1646.0 1299.7L1645.5 1299.7L1645.0 1299.7L1644.5 1299.6L1644.0 1299.5L1643.5 1299.4L1643.0 1299.3L1642.5 1299.2L1642.0 1299.1L1641.5 1299.2L1641.0 1299.2L1640.5 1299.2L1640.0 1300.4L1639.5 1300.5L1639.0 1300.5L1638.5 1300.5L1638.0 1300.5L1637.5 1300.4L1637.0 1300.3L1636.5 1301.5L1636.0 1301.4L1635.5 1301.3L1635.0 1301.3L1634.5 1301.2L1634.0 1301.2L1633.5 1301.2L1633.0 1301.2L1632.5 1298.8L1632.0 1298.8L1631.5 1298.8L1631.0 1298.8L1630.5 1298.8L1630.0 1298.8L1629.5 1298.8L1629.0 1298.8L1628.5 1298.8L1628.0 1298.8L1627.5 1298.8L1627.0 1298.8L1626.5 1298.8L1626.0 1298.8L1625.5 1297.6L1625.0 1297.6L1624.5 1297.6L1624.0 1297.6L1623.5 1297.5L1623.0 1297.5L1622.5 1297.4L1622.0 1297.3L1621.5 1297.2L1621.0 1297.2L1620.5 1297.1L1620.0 1297.1L1619.5 1297.0L1619.0 1297.0L1618.5 1297.0L1618.0 1297.0L1617.5 1297.0L1617.0 1296.9L1616.5 1296.9L1616.0 1296.9L1615.5 1296.9L1615.0 1296.9L1614.5 1298.0L1614.0 1298.0L1613.5 1298.0L1613.0 1297.9L1612.5 1297.8L1612.0 1297.6L1611.5 1297.5L1611.0 1299.7L1610.5 1299.6L1610.0 1299.4L1609.5 1299.2L1609.0 1299.1L1608.5 1299.1L1608.0 1298.9L1607.5 1295.2L1607.0 1295.1L1606.5 1294.9L1606.0 1294.7L1605.5 1294.5L1605.0 1294.3L1604.5 1294.0L1604.0 1294.8L1603.5 1294.5L1603.0 1294.0L1602.5 1293.5ZM1657.5 1282.6L1658.0 1284.5L1658.5 1284.9L1659.0 1286.2L1659.5 1287.1L1660.0 1287.8L1660.5 1288.2L1661.0 1288.4L1661.5 1288.5L1662.0 1286.2L1662.5 1286.2L1663.0 1286.2L1663.5 1286.2L1664.0 1286.2L1664.5 1286.3L1665.0 1286.3L1665.5 1290.0L1666.0 1290.0L1666.5 1290.0L1667.0 1290.0L1667.5 1290.1L1668.0 1290.1L1668.5 1290.1L1669.0 1289.0L1669.5 1289.0L1670.0 1289.0L1670.5 1289.0L1671.0 1289.1L1671.5 1289.1L1672.0 1289.1L1672.5 1289.1L1673.0 1290.4L1673.5 1290.4L1674.0 1290.4L1674.5 1290.4L1675.0 1290.4L1675.5 1290.3L1676.0 1290.3L1676.5 1290.2L1677.0 1290.1L1677.5 1290.0L1678.0 1290.0L1678.5 1290.0L1679.0 1290.0L1679.5 1290.0L1680.0 1290.1L1680.5 1290.1L1681.0 1290.1L1681.5 1290.1L1682.0 1290.1L1682.5 1290.2L1683.0 1290.2L1683.5 1289.0L1684.0 1289.0L1684.5 1289.0L1685.0 1289.0L1685.5 1288.9L1686.0 1288.9L1686.5 1288.8L1687.0 1286.3L1687.5 1286.3L1688.0 1286.2L1688.5 1286.1L1689.0 1286.1L1689.5 1286.1L1690.0 1286.1L1690.5 1286.0L1691.0 1286.0L1691.5 1286.0L1692.0 1286.0L1692.5 1286.0L1693.0 1286.1L1693.5 1286.1L1694.0 1286.2L1694.5 1289.8L1695.0 1289.9L1695.5 1289.9L1696.0 1290.0L1696.5 1289.9L1697.0 1289.9L1697.5 1289.8L1698.0 1289.7L1698.5 1289.7L1699.0 1289.6L1699.5 1289.5L1700.0 1289.5L1700.5 1289.5L1701.0 1289.5L1701.5 1289.5L1702.0 1289.5L1702.5 1289.5L1703.0 1289.5L1703.5 1289.5L1704.0 1289.5L1704.5 1289.5L1705.0 1287.1L1705.5 1287.1L1706.0 1287.1L1706.5 1287.1L1707.0 1287.1L1707.5 1287.1L1708.0 1287.1L1708.5 1287.0L1709.0 1287.0L1709.5 1287.0L1710.0 1287.0L1710.5 1287.0L1711.0 1287.0L1711.5 1287.0L1712.0 1287.1L1712.5 1287.1L1713.0 1287.1L1713.5 1287.2L1714.0 1287.2L1714.5 1287.2L1715.0 1287.3L1715.5 1287.3L1716.0 1289.8L1716.5 1289.9L1717.0 1289.9L1717.5 1290.0L1718.0 1290.0L1718.5 1290.1L1719.0 1290.2L1719.5 1290.3L1720.0 1290.3L1720.5 1290.4L1721.0 1290.5L1721.5 1290.5L1722.0 1290.5L1722.5 1290.5L1723.0 1283.9L1723.5 1283.9L1724.0 1283.9L1724.5 1283.9L1725.0 1283.8L1725.5 1283.8L1726.0 1283.7L1726.5 1283.6L1727.0 1288.9L1727.5 1288.8L1728.0 1288.8L1728.5 1288.7L1729.0 1288.6L1729.5 1288.5L1730.0 1288.4L1730.5 1287.1L1731.0 1287.0L1731.5 1286.9L1732.0 1286.8L1732.5 1286.7L1733.0 1286.6L1733.5 1286.5L1734.0 1288.8L1734.5 1288.7L1735.0 1288.6L1735.5 1288.5L1736.0 1288.4L1736.5 1288.3L1737.0 1288.2L1737.5 1286.9L1738.0 1286.8L1738.5 1286.7L1739.0 1286.6L1739.5 1286.5L1740.0 1286.5L1740.5 1286.5L1741.0 1287.7L1741.5 1287.6L1742.0 1287.6L1742.5 1287.6L1743.0 1287.5L1743.5 1287.6L1744.0 1287.5L1744.5 1287.5L1745.0 1286.3L1745.5 1286.3L1746.0 1286.3L1746.5 1286.2L1747.0 1286.0L1747.5 1285.9L1748.0 1285.7L1748.5 1285.5L1749.0 1285.3L1749.5 1285.1L1750.0 1284.8L1750.5 1284.7L1751.0 1284.4L1751.5 1284.2L1752.0 1281.5L1752.5 1281.2L1753.0 1280.8L1753.5 1280.4L1754.0 1279.9L1754.5 1279.3L1755.0 1278.6L1755.0 1290.8L1754.5 1291.5L1754.0 1292.1L1753.5 1292.6L1753.0 1293.0L1752.5 1293.4L1752.0 1293.7L1751.5 1294.0L1751.0 1294.2L1750.5 1294.5L1750.0 1294.6L1749.5 1294.9L1749.0 1295.1L1748.5 1295.3L1748.0 1295.5L1747.5 1295.7L1747.0 1295.8L1746.5 1296.0L1746.0 1296.1L1745.5 1296.1L1745.0 1296.1L1744.5 1298.5L1744.0 1298.5L1743.5 1298.6L1743.0 1298.5L1742.5 1298.6L1742.0 1298.6L1741.5 1298.6L1741.0 1298.7L1740.5 1297.5L1740.0 1297.5L1739.5 1297.5L1739.0 1297.6L1738.5 1297.7L1738.0 1297.8L1737.5 1297.9L1737.0 1296.8L1736.5 1296.9L1736.0 1297.0L1735.5 1297.1L1735.0 1297.2L1734.5 1297.3L1734.0 1297.4L1733.5 1298.7L1733.0 1298.8L1732.5 1298.9L1732.0 1299.0L1731.5 1299.1L1731.0 1299.2L1730.5 1299.3L1730.0 1299.4L1729.5 1299.5L1729.0 1299.6L1728.5 1299.7L1728.0 1299.8L1727.5 1299.8L1727.0 1299.9L1726.5 1303.7L1726.0 1303.8L1725.5 1303.9L1725.0 1303.9L1724.5 1304.0L1724.0 1304.0L1723.5 1304.0L1723.0 1304.0L1722.5 1304.1L1722.0 1304.1L1721.5 1304.1L1721.0 1304.1L1720.5 1304.0L1720.0 1303.9L1719.5 1303.9L1719.0 1302.4L1718.5 1302.3L1718.0 1302.2L1717.5 1302.2L1717.0 1302.1L1716.5 1302.1L1716.0 1302.0L1715.5 1299.5L1715.0 1299.5L1714.5 1299.4L1714.0 1299.4L1713.5 1299.4L1713.0 1299.3L1712.5 1299.3L1712.0 1298.1L1711.5 1298.0L1711.0 1298.0L1710.5 1298.0L1710.0 1298.0L1709.5 1298.0L1709.0 1298.0L1708.5 1299.2L1708.0 1299.3L1707.5 1299.3L1707.0 1299.3L1706.5 1299.3L1706.0 1299.3L1705.5 1299.3L1705.0 1299.3L1704.5 1301.7L1704.0 1301.7L1703.5 1301.7L1703.0 1301.7L1702.5 1301.7L1702.0 1301.7L1701.5 1301.7L1701.0 1301.7L1700.5 1301.7L1700.0 1301.7L1699.5 1301.7L1699.0 1301.8L1698.5 1301.9L1698.0 1301.9L1697.5 1300.8L1697.0 1300.9L1696.5 1300.9L1696.0 1301.0L1695.5 1300.9L1695.0 1300.9L1694.5 1300.8L1694.0 1300.8L1693.5 1300.7L1693.0 1300.7L1692.5 1300.6L1692.0 1300.6L1691.5 1300.6L1691.0 1300.6L1690.5 1301.8L1690.0 1301.9L1689.5 1301.9L1689.0 1301.9L1688.5 1301.9L1688.0 1302.0L1687.5 1302.1L1687.0 1302.1L1686.5 1298.6L1686.0 1298.7L1685.5 1298.7L1685.0 1298.8L1684.5 1298.8L1684.0 1298.8L1683.5 1298.8L1683.0 1298.8L1682.5 1298.8L1682.0 1298.7L1681.5 1298.7L1681.0 1298.7L1680.5 1298.7L1680.0 1298.7L1679.5 1299.8L1679.0 1299.8L1678.5 1299.8L1678.0 1299.8L1677.5 1299.8L1677.0 1299.9L1676.5 1300.0L1676.0 1298.9L1675.5 1298.9L1675.0 1299.0L1674.5 1299.0L1674.0 1299.0L1673.5 1299.0L1673.0 1299.0L1672.5 1300.1L1672.0 1300.1L1671.5 1300.1L1671.0 1300.1L1670.5 1300.0L1670.0 1300.0L1669.5 1300.0L1669.0 1300.0L1668.5 1299.9L1668.0 1299.9L1667.5 1299.9L1667.0 1299.8L1666.5 1299.8L1666.0 1299.8L1665.5 1299.8L1665.0 1302.1L1664.5 1302.1L1664.0 1302.0L1663.5 1302.0L1663.0 1302.0L1662.5 1302.0L1662.0 1302.0L1661.5 1300.7L1661.0 1300.6L1660.5 1300.4L1660.0 1300.0L1659.5 1299.3L1659.0 1298.4L1658.5 1297.1L1658.0 1294.3L1657.5 1292.4ZM1774.5 1282.2L1775.0 1283.0L1775.5 1283.7L1776.0 1284.2L1776.5 1284.7L1777.0 1283.8L1777.5 1284.2L1778.0 1284.5L1778.5 1284.7L1779.0 1284.9L1779.5 1285.1L1780.0 1285.2L1780.5 1285.3L1781.0 1281.6L1781.5 1281.6L1782.0 1281.7L1782.5 1281.7L1783.0 1281.8L1783.5 1281.9L1784.0 1282.0L1784.5 1283.5L1785.0 1283.6L1785.5 1283.7L1786.0 1283.8L1786.5 1283.8L1787.0 1283.9L1787.5 1284.0L1788.0 1284.0L1788.5 1284.1L1789.0 1284.1L1789.5 1284.2L1790.0 1284.2L1790.5 1284.1L1791.0 1284.1L1791.5 1286.5L1792.0 1286.5L1792.5 1286.5L1793.0 1286.5L1793.5 1286.5L1794.0 1286.6L1794.5 1286.6L1795.0 1287.9L1795.5 1288.0L1796.0 1288.0L1796.5 1288.1L1797.0 1288.2L1797.5 1288.3L1798.0 1288.4L1798.5 1288.5L1799.0 1288.6L1799.5 1288.7L1800.0 1288.8L1800.5 1288.9L1801.0 1288.9L1801.5 1288.9L1802.0 1288.9L1802.5 1285.3L1803.0 1285.3L1803.5 1285.3L1804.0 1285.3L1804.5 1285.3L1805.0 1285.3L1805.5 1285.3L1806.0 1288.9L1806.5 1288.9L1807.0 1289.0L1807.5 1289.0L1808.0 1289.0L1808.5 1289.1L1809.0 1289.2L1809.5 1284.3L1810.0 1284.3L1810.5 1284.4L1811.0 1284.5L1811.5 1284.5L1812.0 1284.5L1812.5 1284.4L1813.0 1285.8L1813.5 1285.7L1814.0 1285.7L1814.5 1285.6L1815.0 1285.6L1815.5 1285.6L1816.0 1285.6L1816.5 1285.6L1817.0 1284.3L1817.5 1284.3L1818.0 1284.3L1818.5 1284.3L1819.0 1284.3L1819.5 1284.3L1820.0 1284.3L1820.5 1286.9L1821.0 1286.9L1821.5 1286.9L1822.0 1286.9L1822.5 1286.8L1823.0 1286.8L1823.5 1286.7L1824.0 1286.7L1824.5 1286.7L1825.0 1286.6L1825.5 1286.6L1826.0 1286.5L1826.5 1286.4L1827.0 1286.3L1827.5 1287.5L1828.0 1287.4L1828.5 1287.3L1829.0 1287.1L1829.5 1287.1L1830.0 1287.1L1830.5 1287.1L1831.0 1284.6L1831.5 1284.6L1832.0 1284.5L1832.5 1284.4L1833.0 1284.3L1833.5 1284.0L1834.0 1283.6L1834.5 1283.3L1835.0 1285.2L1835.5 1284.8L1836.0 1284.2L1836.5 1283.6L1837.0 1282.9L1837.5 1282.1L1838.0 1281.2L1838.0 1293.4L1837.5 1294.3L1837.0 1295.1L1836.5 1295.8L1836.0 1296.4L1835.5 1297.0L1835.0 1297.4L1834.5 1299.1L1834.0 1299.4L1833.5 1299.8L1833.0 1300.1L1832.5 1300.2L1832.0 1300.3L1831.5 1300.4L1831.0 1300.4L1830.5 1301.9L1830.0 1301.9L1829.5 1301.9L1829.0 1301.9L1828.5 1302.1L1828.0 1302.2L1827.5 1302.3L1827.0 1300.9L1826.5 1301.0L1826.0 1301.1L1825.5 1301.2L1825.0 1301.2L1824.5 1301.3L1824.0 1301.3L1823.5 1297.7L1823.0 1297.8L1822.5 1297.8L1822.0 1297.9L1821.5 1297.9L1821.0 1297.9L1820.5 1297.9L1820.0 1299.1L1819.5 1299.1L1819.0 1299.1L1818.5 1299.1L1818.0 1299.1L1817.5 1299.1L1817.0 1299.1L1816.5 1299.0L1816.0 1299.0L1815.5 1299.0L1815.0 1299.0L1814.5 1299.0L1814.0 1299.1L1813.5 1299.1L1813.0 1299.2L1812.5 1303.0L1812.0 1303.1L1811.5 1303.1L1811.0 1303.1L1810.5 1303.0L1810.0 1302.9L1809.5 1302.9L1809.0 1297.8L1808.5 1297.7L1808.0 1297.6L1807.5 1297.6L1807.0 1297.6L1806.5 1297.5L1806.0 1297.5L1805.5 1299.9L1805.0 1299.9L1804.5 1299.9L1804.0 1299.9L1803.5 1299.9L1803.0 1299.9L1802.5 1299.9L1802.0 1297.5L1801.5 1297.5L1801.0 1297.5L1800.5 1297.5L1800.0 1297.4L1799.5 1297.3L1799.0 1297.2L1798.5 1297.1L1798.0 1297.0L1797.5 1296.9L1797.0 1296.8L1796.5 1296.7L1796.0 1296.6L1795.5 1296.6L1795.0 1296.5L1794.5 1300.0L1794.0 1300.0L1793.5 1299.9L1793.0 1299.9L1792.5 1299.9L1792.0 1299.9L1791.5 1299.9L1791.0 1299.9L1790.5 1299.9L1790.0 1300.0L1789.5 1300.0L1789.0 1299.9L1788.5 1299.9L1788.0 1299.8L1787.5 1296.2L1787.0 1296.1L1786.5 1296.0L1786.0 1296.0L1785.5 1295.9L1785.0 1295.8L1784.5 1295.7L1784.0 1295.6L1783.5 1295.5L1783.0 1295.4L1782.5 1295.3L1782.0 1295.3L1781.5 1295.2L1781.0 1295.2L1780.5 1295.1L1780.0 1295.0L1779.5 1294.9L1779.0 1294.7L1778.5 1294.5L1778.0 1294.3L1777.5 1294.0L1777.0 1293.6L1776.5 1298.3L1776.0 1297.8L1775.5 1297.3L1775.0 1296.6L1774.5 1295.8ZM1846.0 1283.7L1846.5 1284.8L1847.0 1285.5L1847.5 1286.0L1848.0 1286.1L1848.5 1286.0L1849.0 1283.0L1849.0 1295.2L1848.5 1294.6L1848.0 1294.7L1847.5 1294.6L1847.0 1294.1L1846.5 1293.4L1846.0 1292.3ZM1855.0 1283.7L1855.5 1284.4L1856.0 1284.9L1856.5 1282.9L1857.0 1283.1L1857.5 1283.1L1858.0 1282.4L1858.0 1293.4L1857.5 1294.1L1857.0 1294.1L1856.5 1293.9L1856.0 1297.1L1855.5 1296.6L1855.0 1295.9ZM1863.0 1279.8L1863.5 1284.9L1864.0 1285.4L1864.5 1285.8L1865.0 1286.2L1865.5 1286.4L1866.0 1286.6L1866.5 1286.7L1867.0 1285.6L1867.5 1285.7L1868.0 1285.8L1868.5 1285.8L1869.0 1285.9L1869.5 1286.0L1870.0 1286.1L1870.5 1286.2L1871.0 1285.1L1871.5 1285.2L1872.0 1285.2L1872.5 1285.3L1873.0 1285.5L1873.5 1285.7L1874.0 1285.8L1874.5 1281.9L1875.0 1282.0L1875.5 1282.2L1876.0 1282.3L1876.5 1282.3L1877.0 1282.3L1877.5 1282.3L1878.0 1288.8L1878.5 1288.8L1879.0 1288.8L1879.5 1288.8L1880.0 1288.8L1880.5 1288.9L1881.0 1288.9L1881.5 1287.7L1882.0 1287.7L1882.5 1287.7L1883.0 1287.7L1883.5 1287.8L1884.0 1287.9L1884.5 1287.9L1885.0 1288.0L1885.5 1288.1L1886.0 1288.2L1886.5 1288.3L1887.0 1288.3L1887.5 1288.3L1888.0 1288.2L1888.5 1288.2L1889.0 1288.1L1889.5 1288.1L1890.0 1288.1L1890.5 1288.0L1891.0 1287.9L1891.5 1287.9L1892.0 1287.8L1892.5 1288.9L1893.0 1288.8L1893.5 1288.7L1894.0 1288.7L1894.5 1288.7L1895.0 1288.8L1895.5 1288.8L1896.0 1288.9L1896.5 1288.9L1897.0 1289.0L1897.5 1289.0L1898.0 1289.1L1898.5 1289.1L1899.0 1289.2L1899.5 1289.2L1900.0 1289.3L1900.5 1289.3L1901.0 1289.4L1901.5 1289.4L1902.0 1289.4L1902.5 1289.4L1903.0 1288.2L1903.5 1288.2L1904.0 1288.2L1904.5 1288.2L1905.0 1288.2L1905.5 1288.2L1906.0 1288.2L1906.5 1288.3L1907.0 1283.0L1907.5 1283.0L1908.0 1283.0L1908.5 1283.0L1909.0 1283.1L1909.5 1283.2L1910.0 1283.3L1910.5 1289.8L1911.0 1289.9L1911.5 1290.0L1912.0 1290.1L1912.5 1290.1L1913.0 1290.0L1913.5 1290.0L1914.0 1287.6L1914.5 1287.6L1915.0 1287.6L1915.5 1287.5L1916.0 1287.5L1916.5 1287.4L1917.0 1287.3L1917.5 1288.4L1918.0 1288.3L1918.5 1288.2L1919.0 1288.1L1919.5 1288.1L1920.0 1288.0L1920.5 1287.9L1921.0 1289.0L1921.5 1288.9L1922.0 1288.8L1922.5 1288.7L1923.0 1288.6L1923.5 1288.6L1924.0 1288.7L1924.5 1288.7L1925.0 1288.7L1925.5 1288.7L1926.0 1288.8L1926.5 1288.8L1927.0 1288.7L1927.5 1288.7L1928.0 1288.7L1928.5 1282.2L1929.0 1282.2L1929.5 1282.1L1930.0 1282.1L1930.5 1282.1L1931.0 1282.0L1931.5 1282.0L1932.0 1288.4L1932.5 1288.4L1933.0 1288.3L1933.5 1288.3L1934.0 1288.3L1934.5 1288.3L1935.0 1288.3L1935.0 1300.5L1934.5 1300.5L1934.0 1300.5L1933.5 1300.5L1933.0 1300.5L1932.5 1300.6L1932.0 1300.6L1931.5 1300.7L1931.0 1300.7L1930.5 1300.8L1930.0 1300.8L1929.5 1300.8L1929.0 1300.9L1928.5 1300.9L1928.0 1297.3L1927.5 1297.3L1927.0 1297.3L1926.5 1297.4L1926.0 1297.4L1925.5 1297.3L1925.0 1297.3L1924.5 1298.5L1924.0 1298.5L1923.5 1298.4L1923.0 1298.4L1922.5 1298.5L1922.0 1298.6L1921.5 1298.7L1921.0 1298.8L1920.5 1298.9L1920.0 1299.0L1919.5 1299.1L1919.0 1299.1L1918.5 1299.2L1918.0 1299.3L1917.5 1299.4L1917.0 1298.3L1916.5 1298.4L1916.0 1298.5L1915.5 1298.5L1915.0 1298.6L1914.5 1298.6L1914.0 1298.6L1913.5 1299.8L1913.0 1299.8L1912.5 1299.9L1912.0 1299.9L1911.5 1299.8L1911.0 1299.7L1910.5 1299.6L1910.0 1302.0L1909.5 1301.9L1909.0 1301.8L1908.5 1301.7L1908.0 1301.7L1907.5 1301.7L1907.0 1301.7L1906.5 1298.1L1906.0 1298.0L1905.5 1298.0L1905.0 1298.0L1904.5 1298.0L1904.0 1298.0L1903.5 1298.0L1903.0 1298.0L1902.5 1298.0L1902.0 1298.0L1901.5 1298.0L1901.0 1298.0L1900.5 1297.9L1900.0 1297.9L1899.5 1297.8L1899.0 1301.4L1898.5 1301.3L1898.0 1301.3L1897.5 1301.2L1897.0 1301.2L1896.5 1301.1L1896.0 1301.1L1895.5 1298.6L1895.0 1298.6L1894.5 1298.5L1894.0 1298.5L1893.5 1298.5L1893.0 1298.6L1892.5 1298.7L1892.0 1302.6L1891.5 1302.7L1891.0 1302.7L1890.5 1302.8L1890.0 1302.9L1889.5 1302.9L1889.0 1302.9L1888.5 1299.2L1888.0 1299.2L1887.5 1299.3L1887.0 1299.3L1886.5 1299.3L1886.0 1299.2L1885.5 1299.1L1885.0 1299.0L1884.5 1298.9L1884.0 1298.9L1883.5 1298.8L1883.0 1298.7L1882.5 1298.7L1882.0 1298.7L1881.5 1298.7L1881.0 1297.5L1880.5 1297.5L1880.0 1297.4L1879.5 1297.4L1879.0 1297.4L1878.5 1297.4L1878.0 1297.4L1877.5 1297.4L1877.0 1297.4L1876.5 1297.4L1876.0 1297.4L1875.5 1297.3L1875.0 1297.1L1874.5 1297.0L1874.0 1296.8L1873.5 1296.7L1873.0 1296.5L1872.5 1296.3L1872.0 1296.2L1871.5 1296.2L1871.0 1296.1L1870.5 1298.4L1870.0 1298.3L1869.5 1298.2L1869.0 1298.1L1868.5 1298.0L1868.0 1298.0L1867.5 1297.9L1867.0 1297.8L1866.5 1296.5L1866.0 1296.4L1865.5 1296.2L1865.0 1296.0L1864.5 1295.6L1864.0 1295.2L1863.5 1294.7L1863.0 1290.8Z" fill="#060606" stroke="none"/>
</g>
<g filter="url(#b3)">
<rect x="618.6" y="810.0" width="5.6" height="174.0" fill="#505050"/>
<rect x="619.0" y="984.0" width="6.0" height="73.0" fill="#101010"/>
<rect x="753.8" y="886.0" width="5.6" height="106.0" fill="#555"/>
<rect x="754.0" y="992.0" width="6.0" height="57.0" fill="#101010"/>
<rect x="858.5" y="707.0" width="7.5" height="147.0" fill="#0c0c0c"/>
<rect x="945.1" y="1167.0" width="5.0" height="26.0" fill="#1c1c1c"/>
<rect x="695.5" y="1201.0" width="4.6" height="31.0" fill="#2a2a2a"/>
<rect x="1128.3" y="1136.0" width="7.0" height="93.0" fill="#111"/>
<rect x="1273.3" y="716.0" width="4.6" height="80.0" fill="#6a6a6a"/>
<rect x="1273.3" y="796.0" width="5.0" height="111.0" fill="#484848"/>
<rect x="1273.3" y="907.0" width="7.0" height="38.0" fill="#3c3c3c"/>
<rect x="1275.3" y="945.0" width="5.8" height="248.0" fill="#0c0c0c"/>
<rect x="1849.0" y="1212.0" width="5.5" height="47.0" fill="#111"/>
<rect x="1581.3" y="1252.0" width="4.4" height="12.0" fill="#151515"/>
<rect x="1542.2" y="1200.0" width="4.0" height="62.0" fill="#2a2a2a"/>
</g>
<rect x="1546" y="1144.5" width="45.5" height="49" fill="#fff"/>
<path d="M828.7 1123V1193.5H831.6V1260" fill="none" stroke="#000" stroke-width="3"/>
<path d="M811 1210.5V1243H813.8V1272" fill="none" stroke="#000" stroke-width="3"/>
<rect x="613.4" y="88.7" width="2.8" height="34.6" fill="#b4cc1c"/>
<g filter="url(#b2)">
<circle cx="340" cy="990.5" r="18.9" fill="#ff0a0c"/>
<circle cx="621" cy="654.6" r="18.9" fill="#ff0a0c"/>
<circle cx="693.9" cy="1072.5" r="18.9" fill="#ff0a0c"/>
<circle cx="804.6" cy="1184.2" r="18.9" fill="#ff0a0c"/>
<circle cx="1124.3" cy="950" r="18.9" fill="#ff0a0c"/>
<circle cx="1282" cy="482" r="18.9" fill="#ff0a0c"/>
<circle cx="1340.3" cy="1239" r="18.9" fill="#ff0a0c"/>
<circle cx="1384.2" cy="1125.1" r="18.9" fill="#ff0a0c"/>
<circle cx="1536.1" cy="1010.9" r="18.9" fill="#ff0a0c"/>
<circle cx="1589" cy="944.1" r="18.9" fill="#ff0a0c"/>
<circle cx="1650.5" cy="1244.7" r="18.9" fill="#ff0a0c"/>
<circle cx="1843.4" cy="1093.1" r="18.9" fill="#ff0a0c"/>
<circle cx="1872.8" cy="1163" r="18.9" fill="#ff0a0c"/>
<path d="M660 1213.5L682.5 1236L660 1258.5L637.5 1236Z" fill="#ff6a00" stroke="#ffa21a" stroke-width="1.6" stroke-linejoin="miter"/>
<path d="M821 1069.7L843.5 1092.2L821 1114.7L798.5 1092.2Z" fill="#ff6a00" stroke="#ffa21a" stroke-width="1.6" stroke-linejoin="miter"/>
<path d="M1382.8 1157.5L1405.3 1180L1382.8 1202.5L1360.3 1180Z" fill="#ff6a00" stroke="#ffa21a" stroke-width="1.6" stroke-linejoin="miter"/>
<path d="M752.2 829.5L774.5 871L729.9 871Z" fill="#00ffff"/>
<path d="M948.4 1061L970.7 1101.7L926.1 1101.7Z" fill="#00ffff"/>
<path d="M1568.2 1151.2L1590.5 1192.6L1545.9 1192.6Z" fill="#00ffff"/>
<rect x="873.4" y="82.3" width="3.8" height="36.7" fill="#19e6dc"/>
<rect x="842.1" y="116.4" width="33.5" height="3.6" fill="#7af0aa"/>
<rect x="842.1" y="81.9" width="32.3" height="35.5" fill="#00962a"/>
<rect x="842.1" y="84.5" width="31.1" height="32.9" fill="#007a08"/>
<rect x="842.7" y="85.1" width="28.9" height="29.3" fill="#006600"/>
<rect x="1087" y="1038.5" width="3.8" height="36.3" fill="#19e6dc"/>
<rect x="1055.3" y="1072.2" width="33.9" height="3.6" fill="#7af0aa"/>
<rect x="1052.7" y="1038.7" width="3.4" height="35.9" fill="#bedc2a"/>
<rect x="1055.3" y="1038.1" width="32.7" height="35.1" fill="#00962a"/>
<rect x="1055.3" y="1040.7" width="31.5" height="32.5" fill="#007a08"/>
<rect x="1055.9" y="1041.3" width="29.3" height="28.9" fill="#006600"/>
<rect x="1782.8" y="1146.5" width="3.8" height="36.2" fill="#19e6dc"/>
<rect x="1749" y="1180.1" width="36" height="3.6" fill="#7af0aa"/>
<rect x="1746.4" y="1146.7" width="3.4" height="35.8" fill="#bedc2a"/>
<rect x="1749" y="1146.1" width="34.8" height="35" fill="#00962a"/>
<rect x="1749" y="1148.7" width="33.6" height="32.4" fill="#007a08"/>
<rect x="1749.6" y="1149.3" width="31.4" height="28.8" fill="#006600"/>
<text x="849.0" y="169.8" font-family="'DejaVu Sans','Liberation Sans',sans-serif" font-weight="bold" font-size="46" fill="#5e5e5e" stroke="#5e5e5e" stroke-width="0.9">*</text>
<text x="1056.7" y="1130.1" font-family="'DejaVu Sans','Liberation Sans',sans-serif" font-weight="bold" font-size="46" fill="#5e5e5e" stroke="#5e5e5e" stroke-width="0.9">*</text>
<text x="1753.4" y="1234.3" font-family="'DejaVu Sans','Liberation Sans',sans-serif" font-weight="bold" font-size="46" fill="#5e5e5e" stroke="#5e5e5e" stroke-width="0.9">*</text>
<path d="M1311.9 105L1334.9 128L1311.9 151L1288.9 128Z" fill="#ff6a00" stroke="#ffa21a" stroke-width="1.6" stroke-linejoin="miter"/>
<path d="M1311.2 166.4L1333.4 208L1289 208Z" fill="#00ffff"/>
<rect x="1327" y="217.6" width="3.8" height="35.6" fill="#19e6dc"/>
<rect x="1295.3" y="250.6" width="33.9" height="3.6" fill="#7af0aa"/>
<rect x="1295.3" y="217.2" width="32.7" height="34.4" fill="#00962a"/>
<rect x="1295.3" y="219.8" width="31.5" height="31.8" fill="#007a08"/>
<rect x="1295.9" y="220.4" width="29.3" height="28.2" fill="#006600"/>
<text x="1307.1" y="317.2" font-family="'DejaVu Sans','Liberation Sans',sans-serif" font-weight="bold" font-size="46" fill="#5e5e5e" stroke="#5e5e5e" stroke-width="0.9">*</text>
<circle cx="1314" cy="345.2" r="19.2" fill="#ff0a0c"/>
<rect x="1063.1" y="1079.3" width="9" height="2.4" fill="#9a9a9a"/>
<rect x="1337" y="1269.1" width="12" height="2.4" fill="#9a9a9a"/>
<rect x="1853.5" y="1192.8" width="12" height="2.4" fill="#9a9a9a"/>
<rect x="1306" y="255.3" width="8" height="2.4" fill="#9a9a9a"/>
<rect x="1270.3" y="511.8" width="12" height="2.4" fill="#9a9a9a"/>
<rect x="692.8" y="1102.3" width="9" height="2.4" fill="#9a9a9a"/>
<path d="M1645.5 1274 L1655 1281 L1664.5 1274" stroke="#444" stroke-width="2.6" fill="none"/>
</g>
<g class="sans" fill="#2b2b2b" stroke="#2b2b2b" stroke-width="0.5" font-size="50" text-anchor="middle" filter="url(#b3)">
<text x="174" y="1435.3" textLength="54" lengthAdjust="spacingAndGlyphs">20</text>
<text x="467.5" y="1435.3" textLength="54" lengthAdjust="spacingAndGlyphs">30</text>
<text x="760.5" y="1435.3" textLength="54" lengthAdjust="spacingAndGlyphs">40</text>
<text x="1055" y="1435.3" textLength="54" lengthAdjust="spacingAndGlyphs">50</text>
<text x="1347.5" y="1435.3" textLength="54" lengthAdjust="spacingAndGlyphs">60</text>
<text x="1640.5" y="1435.3" textLength="54" lengthAdjust="spacingAndGlyphs">70</text>
<text x="1934.6" y="1435.3" textLength="54" lengthAdjust="spacingAndGlyphs">80</text>
</g>
<g class="sans" fill="#2e2e2e" stroke="#2e2e2e" stroke-width="0.45" font-size="44.5" filter="url(#b3)">
<text x="1342" y="138.5" textLength="17.6" lengthAdjust="spacingAndGlyphs" fill="#8a8a8a" stroke="#8a8a8a" stroke-width="0.7">–</text>
<text x="1338.8" y="199.1" textLength="20.8" lengthAdjust="spacingAndGlyphs" fill="#8a8a8a" stroke="#8a8a8a" stroke-width="0.7">–</text>
<text x="1338.8" y="251" textLength="20.8" lengthAdjust="spacingAndGlyphs" fill="#8a8a8a" stroke="#8a8a8a" stroke-width="0.7">–</text>
<text x="1336.4" y="306.7" textLength="21.6" lengthAdjust="spacingAndGlyphs" fill="#8a8a8a" stroke="#8a8a8a" stroke-width="0.7">–</text>
<text x="1349" y="358.2" fill="#8a8a8a" stroke="#8a8a8a" stroke-width="0.4">-</text>
<text x="1374.8" y="137.9" textLength="57" lengthAdjust="spacingAndGlyphs">Cu</text>
<text x="1432.5" y="161.8" font-size="32" textLength="19.5" lengthAdjust="spacingAndGlyphs">2</text>
<text x="1451.3" y="137.9" textLength="424" lengthAdjust="spacingAndGlyphs">O (PDF 01-071-3645)</text>
<text x="1370.3" y="199.1" textLength="429.5" lengthAdjust="spacingAndGlyphs">Pt (PDF 01-087-0647)</text>
<text x="1369.5" y="250.3" textLength="445.5" lengthAdjust="spacingAndGlyphs">Cu (PDF 03-065-9026)</text>
<text x="1371.2" y="303.9" textLength="450" lengthAdjust="spacingAndGlyphs">BN (PDF 01-084-5997)</text>
<text x="1373" y="356.3" textLength="38.5" lengthAdjust="spacingAndGlyphs">Al</text>
<text x="1411" y="375.5" font-size="29" textLength="16.5" lengthAdjust="spacingAndGlyphs">2</text>
<text x="1426" y="356.3" textLength="35" lengthAdjust="spacingAndGlyphs">O</text>
<text x="1460.5" y="375.5" font-size="29" textLength="16.5" lengthAdjust="spacingAndGlyphs">3</text>
<text x="1489" y="356.3" textLength="377" lengthAdjust="spacingAndGlyphs">(PDF 00-046-1212)</text>
</g>
<text class="serif" x="0" y="0" font-size="70" font-style="italic" fill="#0a0a14" filter="url(#b3)" transform="translate(75.3 120.3) skewX(-6) scale(0.94 1)">I</text>
<text class="serif" x="966" y="1537.5" font-size="69" fill="#0a0a14" textLength="212" lengthAdjust="spacingAndGlyphs" filter="url(#b3)">2θ, deg</text>
</svg></body></html>
